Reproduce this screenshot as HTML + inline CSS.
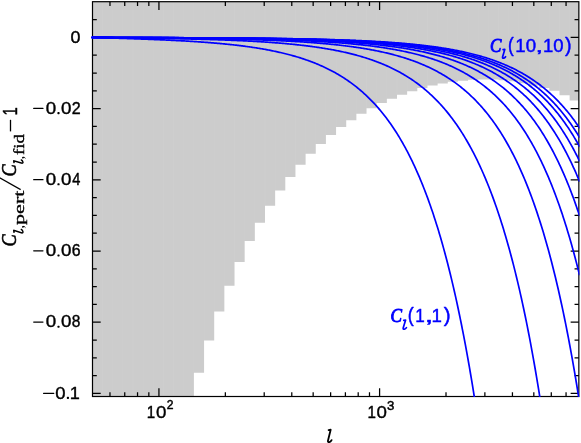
<!DOCTYPE html>
<html><head><meta charset="utf-8"><title>plot</title>
<style>
html,body{margin:0;padding:0;background:#fff;}
svg{display:block;}
.sa{font-family:"Liberation Sans",sans-serif;}
.se{font-family:"Liberation Serif",serif;}
</style></head><body>
<svg width="581" height="443" viewBox="0 0 581 443">
<rect width="581" height="443" fill="#fff"/>
<defs><filter id="f" filterUnits="userSpaceOnUse" x="0" y="0" width="581" height="443" color-interpolation-filters="sRGB"><feOffset dx="0" dy="0"/></filter><clipPath id="cp"><rect x="90.5" y="1.7" width="488.95000000000005" height="395.40000000000003"/></clipPath></defs>
<g fill="#cccccc">
<path d="M92.50,1.70 L92.50,396.50 L102.50,396.50 L102.50,396.50 L112.66,396.50 L112.66,396.50 L122.81,396.50 L122.81,396.50 L132.97,396.50 L132.97,396.50 L143.12,396.50 L143.12,396.50 L153.28,396.50 L153.28,396.50 L163.44,396.50 L163.44,396.50 L173.59,396.50 L173.59,396.50 L183.75,396.50 L183.75,396.50 L193.90,396.50 L193.90,372.70 L204.06,372.70 L204.06,340.40 L214.21,340.40 L214.21,311.50 L224.36,311.50 L224.36,285.80 L234.52,285.80 L234.52,262.10 L244.67,262.10 L244.67,241.10 L254.83,241.10 L254.83,222.70 L264.99,222.70 L264.99,205.70 L275.14,205.70 L275.14,190.60 L285.29,190.60 L285.29,176.90 L295.45,176.90 L295.45,164.70 L305.61,164.70 L305.61,153.65 L315.76,153.65 L315.76,144.10 L325.91,144.10 L325.91,135.10 L336.07,135.10 L336.07,127.10 L346.22,127.10 L346.22,120.20 L356.38,120.20 L356.38,113.80 L366.53,113.80 L366.53,108.30 L376.69,108.30 L376.69,103.00 L386.85,103.00 L386.85,98.64 L397.00,98.64 L397.00,94.80 L407.15,94.80 L407.15,91.30 L417.31,91.30 L417.31,88.10 L427.46,88.10 L427.46,85.57 L437.62,85.57 L437.62,83.55 L447.77,83.55 L447.77,81.72 L457.93,81.72 L457.93,80.65 L468.08,80.65 L468.08,79.80 L478.24,79.80 L478.24,79.45 L488.39,79.45 L488.39,79.50 L498.55,79.50 L498.55,80.20 L508.70,80.20 L508.70,81.30 L518.86,81.30 L518.86,83.20 L529.01,83.20 L529.01,85.40 L539.17,85.40 L539.17,87.95 L549.32,87.95 L549.32,90.65 L559.48,90.65 L559.48,95.20 L569.63,95.20 L569.63,100.55 L578.85,100.55 L578.85,1.70Z"/>
<path d="M102.50,1.7 V396.50 M112.66,1.7 V396.50 M122.81,1.7 V396.50 M132.97,1.7 V396.50 M143.12,1.7 V396.50 M153.28,1.7 V396.50 M163.44,1.7 V396.50 M173.59,1.7 V396.50 M183.75,1.7 V396.50 M193.90,1.7 V372.70 M204.06,1.7 V340.40 M214.21,1.7 V311.50 M224.36,1.7 V285.80 M234.52,1.7 V262.10 M244.67,1.7 V241.10 M254.83,1.7 V222.70 M264.99,1.7 V205.70 M275.14,1.7 V190.60 M285.29,1.7 V176.90 M295.45,1.7 V164.70 M305.61,1.7 V153.65 M315.76,1.7 V144.10 M325.91,1.7 V135.10 M336.07,1.7 V127.10 M346.22,1.7 V120.20 M356.38,1.7 V113.80 M366.53,1.7 V108.30 M376.69,1.7 V103.00 M386.85,1.7 V98.64 M397.00,1.7 V94.80 M407.15,1.7 V91.30 M417.31,1.7 V88.10 M427.46,1.7 V85.57 M437.62,1.7 V83.55 M447.77,1.7 V81.72 M457.93,1.7 V80.65 M468.08,1.7 V79.80 M478.24,1.7 V79.45 M488.39,1.7 V79.45 M498.55,1.7 V79.50 M508.70,1.7 V80.20 M518.86,1.7 V81.30 M529.01,1.7 V83.20 M539.17,1.7 V85.40 M549.32,1.7 V87.95 M559.48,1.7 V90.65 M569.63,1.7 V95.20" stroke="#fff" stroke-opacity="0.045" stroke-width="1" fill="none"/>
</g>
<path d="M109.97,396.5 v-4.3 M109.97,1.7 v4.3 M124.74,396.5 v-4.3 M124.74,1.7 v4.3 M137.54,396.5 v-4.3 M137.54,1.7 v4.3 M148.83,396.5 v-4.3 M148.83,1.7 v4.3 M158.93,396.5 v-8.2 M158.93,1.7 v8.2 M225.35,396.5 v-4.3 M225.35,1.7 v4.3 M264.21,396.5 v-4.3 M264.21,1.7 v4.3 M291.78,396.5 v-4.3 M291.78,1.7 v4.3 M313.16,396.5 v-4.3 M313.16,1.7 v4.3 M330.63,396.5 v-4.3 M330.63,1.7 v4.3 M345.40,396.5 v-4.3 M345.40,1.7 v4.3 M358.20,396.5 v-4.3 M358.20,1.7 v4.3 M369.49,396.5 v-4.3 M369.49,1.7 v4.3 M379.59,396.5 v-8.2 M379.59,1.7 v8.2 M446.01,396.5 v-4.3 M446.01,1.7 v4.3 M484.87,396.5 v-4.3 M484.87,1.7 v4.3 M512.44,396.5 v-4.3 M512.44,1.7 v4.3 M533.82,396.5 v-4.3 M533.82,1.7 v4.3 M551.29,396.5 v-4.3 M551.29,1.7 v4.3 M566.06,396.5 v-4.3 M566.06,1.7 v4.3 M92.5,19.60 h4.3 M578.85,19.60 h-4.3 M92.5,37.40 h8.2 M578.85,37.40 h-8.2 M92.5,55.20 h4.3 M578.85,55.20 h-4.3 M92.5,73.00 h4.3 M578.85,73.00 h-4.3 M92.5,90.80 h4.3 M578.85,90.80 h-4.3 M92.5,108.60 h8.2 M578.85,108.60 h-8.2 M92.5,126.40 h4.3 M578.85,126.40 h-4.3 M92.5,144.20 h4.3 M578.85,144.20 h-4.3 M92.5,162.00 h4.3 M578.85,162.00 h-4.3 M92.5,179.80 h8.2 M578.85,179.80 h-8.2 M92.5,197.60 h4.3 M578.85,197.60 h-4.3 M92.5,215.40 h4.3 M578.85,215.40 h-4.3 M92.5,233.20 h4.3 M578.85,233.20 h-4.3 M92.5,251.00 h8.2 M578.85,251.00 h-8.2 M92.5,268.80 h4.3 M578.85,268.80 h-4.3 M92.5,286.60 h4.3 M578.85,286.60 h-4.3 M92.5,304.40 h4.3 M578.85,304.40 h-4.3 M92.5,322.20 h8.2 M578.85,322.20 h-8.2 M92.5,340.00 h4.3 M578.85,340.00 h-4.3 M92.5,357.80 h4.3 M578.85,357.80 h-4.3 M92.5,375.60 h4.3 M578.85,375.60 h-4.3 M92.5,393.40 h8.2 M578.85,393.40 h-8.2" stroke="#000" stroke-width="1.25" fill="none"/>
<rect x="92.5" y="1.7" width="486.35" height="394.8" fill="none" stroke="#000" stroke-width="1.2"/>
<g clip-path="url(#cp)" fill="none" stroke="#0000ff" stroke-width="1.7" stroke-linejoin="round" stroke-linecap="round">
<path d="M92.4,37.40 L93.4,37.43 L94.4,37.47 L95.4,37.50 L96.4,37.54 L97.4,37.57 L98.4,37.60 L99.4,37.64 L100.4,37.67 L101.4,37.70 L102.4,37.73 L103.4,37.77 L104.4,37.80 L105.4,37.83 L106.4,37.87 L107.4,37.90 L108.4,37.93 L109.4,37.96 L110.4,38.00 L111.4,38.03 L112.4,38.06 L113.4,38.09 L114.4,38.13 L115.4,38.16 L116.4,38.19 L117.4,38.22 L118.4,38.26 L119.4,38.29 L120.4,38.32 L121.4,38.35 L122.4,38.39 L123.4,38.42 L124.4,38.45 L125.4,38.49 L126.4,38.52 L127.4,38.55 L128.4,38.59 L129.4,38.62 L130.4,38.66 L131.4,38.69 L132.4,38.72 L133.4,38.76 L134.4,38.79 L135.4,38.83 L136.4,38.86 L137.4,38.90 L138.4,38.93 L139.4,38.97 L140.4,39.00 L141.4,39.04 L142.4,39.08 L143.4,39.11 L144.4,39.15 L145.4,39.19 L146.4,39.23 L147.4,39.26 L148.4,39.30 L149.4,39.34 L150.4,39.38 L151.4,39.42 L152.4,39.46 L153.4,39.50 L154.4,39.54 L155.4,39.58 L156.4,39.62 L157.4,39.66 L158.4,39.70 L159.4,39.74 L160.4,39.79 L161.4,39.83 L162.4,39.87 L163.4,39.92 L164.4,39.96 L165.4,40.00 L166.4,40.05 L167.4,40.10 L168.4,40.14 L169.4,40.19 L170.4,40.24 L171.4,40.28 L172.4,40.33 L173.4,40.38 L174.4,40.43 L175.4,40.48 L176.4,40.53 L177.4,40.58 L178.4,40.63 L179.4,40.69 L180.4,40.74 L181.4,40.79 L182.4,40.85 L183.4,40.90 L184.4,40.96 L185.4,41.01 L186.4,41.07 L187.4,41.13 L188.4,41.19 L189.4,41.25 L190.4,41.31 L191.4,41.37 L192.4,41.43 L193.4,41.49 L194.4,41.56 L195.4,41.62 L196.4,41.69 L197.4,41.75 L198.4,41.82 L199.4,41.89 L200.4,41.96 L201.4,42.03 L202.4,42.10 L203.4,42.17 L204.4,42.24 L205.4,42.31 L206.4,42.39 L207.4,42.47 L208.4,42.54 L209.4,42.62 L210.4,42.70 L211.4,42.78 L212.4,42.86 L213.4,42.94 L214.4,43.03 L215.4,43.11 L216.4,43.20 L217.4,43.29 L218.4,43.37 L219.4,43.46 L220.4,43.56 L221.4,43.65 L222.4,43.74 L223.4,43.84 L224.4,43.93 L225.4,44.03 L226.4,44.13 L227.4,44.23 L228.4,44.33 L229.4,44.44 L230.4,44.54 L231.4,44.65 L232.4,44.76 L233.4,44.87 L234.4,44.98 L235.4,45.10 L236.4,45.21 L237.4,45.33 L238.4,45.45 L239.4,45.57 L240.4,45.69 L241.4,45.82 L242.4,45.94 L243.4,46.07 L244.4,46.20 L245.4,46.33 L246.4,46.47 L247.4,46.60 L248.4,46.74 L249.4,46.88 L250.4,47.03 L251.4,47.17 L252.4,47.32 L253.4,47.47 L254.4,47.62 L255.4,47.77 L256.4,47.93 L257.4,48.09 L258.4,48.25 L259.4,48.42 L260.4,48.58 L261.4,48.75 L262.4,48.92 L263.4,49.10 L264.4,49.27 L265.4,49.45 L266.4,49.64 L267.4,49.82 L268.4,50.01 L269.4,50.20 L270.4,50.40 L271.4,50.60 L272.4,50.80 L273.4,51.00 L274.4,51.21 L275.4,51.42 L276.4,51.63 L277.4,51.85 L278.4,52.07 L279.4,52.30 L280.4,52.52 L281.4,52.75 L282.4,52.99 L283.4,53.23 L284.4,53.47 L285.4,53.72 L286.4,53.97 L287.4,54.22 L288.4,54.48 L289.4,54.75 L290.4,55.01 L291.4,55.28 L292.4,55.56 L293.4,55.84 L294.4,56.13 L295.4,56.42 L296.4,56.71 L297.4,57.01 L298.4,57.31 L299.4,57.62 L300.4,57.93 L301.4,58.25 L302.4,58.58 L303.4,58.91 L304.4,59.24 L305.4,59.58 L306.4,59.93 L307.4,60.28 L308.4,60.64 L309.4,61.00 L310.4,61.37 L311.4,61.74 L312.4,62.12 L313.4,62.51 L314.4,62.90 L315.4,63.30 L316.4,63.71 L317.4,64.12 L318.4,64.54 L319.4,64.97 L320.4,65.41 L321.4,65.85 L322.4,66.30 L323.4,66.75 L324.4,67.22 L325.4,67.69 L326.4,68.17 L327.4,68.65 L328.4,69.15 L329.4,69.65 L330.4,70.16 L331.4,70.68 L332.4,71.21 L333.4,71.75 L334.4,72.30 L335.4,72.85 L336.4,73.42 L337.4,73.99 L338.4,74.58 L339.4,75.17 L340.4,75.78 L341.4,76.39 L342.4,77.02 L343.4,77.65 L344.4,78.30 L345.4,78.95 L346.4,79.62 L347.4,80.30 L348.4,80.99 L349.4,81.69 L350.4,82.41 L351.4,83.13 L352.4,83.87 L353.4,84.62 L354.4,85.38 L355.4,86.16 L356.4,86.95 L357.4,87.75 L358.4,88.57 L359.4,89.40 L360.4,90.25 L361.4,91.10 L362.4,91.98 L363.4,92.87 L364.4,93.77 L365.4,94.69 L366.4,95.62 L367.4,96.58 L368.4,97.54 L369.4,98.53 L370.4,99.53 L371.4,100.54 L372.4,101.58 L373.4,102.63 L374.4,103.70 L375.4,104.79 L376.4,105.90 L377.4,107.03 L378.4,108.18 L379.4,109.34 L380.4,110.53 L381.4,111.74 L382.4,112.96 L383.4,114.21 L384.4,115.48 L385.4,116.78 L386.4,118.09 L387.4,119.43 L388.4,120.79 L389.4,122.18 L390.4,123.59 L391.4,125.02 L392.4,126.48 L393.4,127.96 L394.4,129.47 L395.4,131.01 L396.4,132.57 L397.4,134.16 L398.4,135.78 L399.4,137.43 L400.4,139.10 L401.4,140.81 L402.4,142.54 L403.4,144.31 L404.4,146.10 L405.4,147.93 L406.4,149.79 L407.4,151.68 L408.4,153.61 L409.4,155.57 L410.4,157.56 L411.4,159.59 L412.4,161.66 L413.4,163.76 L414.4,165.90 L415.4,168.08 L416.4,170.29 L417.4,172.55 L418.4,174.84 L419.4,177.18 L420.4,179.55 L421.4,181.97 L422.4,184.43 L423.4,186.94 L424.4,189.49 L425.4,192.09 L426.4,194.73 L427.4,197.42 L428.4,200.15 L429.4,202.94 L430.4,205.78 L431.4,208.66 L432.4,211.60 L433.4,214.59 L434.4,217.64 L435.4,220.74 L436.4,223.89 L437.4,227.10 L438.4,230.37 L439.4,233.70 L440.4,237.09 L441.4,240.54 L442.4,244.05 L443.4,247.62 L444.4,251.26 L445.4,254.97 L446.4,258.74 L447.4,262.58 L448.4,266.49 L449.4,270.47 L450.4,274.52 L451.4,278.65 L452.4,282.85 L453.4,287.12 L454.4,291.48 L455.4,295.91 L456.4,300.43 L457.4,305.02 L458.4,309.70 L459.4,314.47 L460.4,319.32 L461.4,324.26 L462.4,329.30 L463.4,334.42 L464.4,339.64 L465.4,344.95 L466.4,350.36 L467.4,355.87 L468.4,361.48 L469.4,367.19 L470.4,373.01 L471.4,378.94 L472.4,384.97 L473.4,391.12 L474.4,397.37 L475.4,403.75 L476.4,410.24"/>
<path d="M92.4,37.40 L93.4,37.41 L94.4,37.43 L95.4,37.44 L96.4,37.46 L97.4,37.47 L98.4,37.49 L99.4,37.50 L100.4,37.52 L101.4,37.53 L102.4,37.54 L103.4,37.56 L104.4,37.57 L105.4,37.59 L106.4,37.60 L107.4,37.61 L108.4,37.63 L109.4,37.64 L110.4,37.66 L111.4,37.67 L112.4,37.68 L113.4,37.70 L114.4,37.71 L115.4,37.73 L116.4,37.74 L117.4,37.75 L118.4,37.77 L119.4,37.78 L120.4,37.79 L121.4,37.81 L122.4,37.82 L123.4,37.84 L124.4,37.85 L125.4,37.86 L126.4,37.88 L127.4,37.89 L128.4,37.91 L129.4,37.92 L130.4,37.94 L131.4,37.95 L132.4,37.96 L133.4,37.98 L134.4,37.99 L135.4,38.01 L136.4,38.02 L137.4,38.04 L138.4,38.05 L139.4,38.07 L140.4,38.08 L141.4,38.09 L142.4,38.11 L143.4,38.12 L144.4,38.14 L145.4,38.16 L146.4,38.17 L147.4,38.19 L148.4,38.20 L149.4,38.22 L150.4,38.23 L151.4,38.25 L152.4,38.27 L153.4,38.28 L154.4,38.30 L155.4,38.31 L156.4,38.33 L157.4,38.35 L158.4,38.36 L159.4,38.38 L160.4,38.40 L161.4,38.42 L162.4,38.43 L163.4,38.45 L164.4,38.47 L165.4,38.49 L166.4,38.50 L167.4,38.52 L168.4,38.54 L169.4,38.56 L170.4,38.58 L171.4,38.60 L172.4,38.62 L173.4,38.64 L174.4,38.66 L175.4,38.68 L176.4,38.70 L177.4,38.72 L178.4,38.74 L179.4,38.76 L180.4,38.78 L181.4,38.80 L182.4,38.82 L183.4,38.84 L184.4,38.86 L185.4,38.89 L186.4,38.91 L187.4,38.93 L188.4,38.95 L189.4,38.98 L190.4,39.00 L191.4,39.03 L192.4,39.05 L193.4,39.07 L194.4,39.10 L195.4,39.12 L196.4,39.15 L197.4,39.17 L198.4,39.20 L199.4,39.23 L200.4,39.25 L201.4,39.28 L202.4,39.31 L203.4,39.34 L204.4,39.36 L205.4,39.39 L206.4,39.42 L207.4,39.45 L208.4,39.48 L209.4,39.51 L210.4,39.54 L211.4,39.57 L212.4,39.60 L213.4,39.63 L214.4,39.66 L215.4,39.70 L216.4,39.73 L217.4,39.76 L218.4,39.80 L219.4,39.83 L220.4,39.87 L221.4,39.90 L222.4,39.94 L223.4,39.97 L224.4,40.01 L225.4,40.05 L226.4,40.08 L227.4,40.12 L228.4,40.16 L229.4,40.20 L230.4,40.24 L231.4,40.28 L232.4,40.32 L233.4,40.36 L234.4,40.40 L235.4,40.45 L236.4,40.49 L237.4,40.53 L238.4,40.58 L239.4,40.62 L240.4,40.67 L241.4,40.72 L242.4,40.76 L243.4,40.81 L244.4,40.86 L245.4,40.91 L246.4,40.96 L247.4,41.01 L248.4,41.06 L249.4,41.11 L250.4,41.17 L251.4,41.22 L252.4,41.27 L253.4,41.33 L254.4,41.39 L255.4,41.44 L256.4,41.50 L257.4,41.56 L258.4,41.62 L259.4,41.68 L260.4,41.74 L261.4,41.80 L262.4,41.87 L263.4,41.93 L264.4,41.99 L265.4,42.06 L266.4,42.13 L267.4,42.19 L268.4,42.26 L269.4,42.33 L270.4,42.40 L271.4,42.48 L272.4,42.55 L273.4,42.62 L274.4,42.70 L275.4,42.78 L276.4,42.85 L277.4,42.93 L278.4,43.01 L279.4,43.09 L280.4,43.18 L281.4,43.26 L282.4,43.34 L283.4,43.43 L284.4,43.52 L285.4,43.61 L286.4,43.70 L287.4,43.79 L288.4,43.88 L289.4,43.98 L290.4,44.07 L291.4,44.17 L292.4,44.27 L293.4,44.37 L294.4,44.47 L295.4,44.57 L296.4,44.68 L297.4,44.79 L298.4,44.89 L299.4,45.00 L300.4,45.12 L301.4,45.23 L302.4,45.34 L303.4,45.46 L304.4,45.58 L305.4,45.70 L306.4,45.82 L307.4,45.95 L308.4,46.07 L309.4,46.20 L310.4,46.33 L311.4,46.46 L312.4,46.60 L313.4,46.74 L314.4,46.87 L315.4,47.01 L316.4,47.16 L317.4,47.30 L318.4,47.45 L319.4,47.60 L320.4,47.75 L321.4,47.91 L322.4,48.06 L323.4,48.22 L324.4,48.39 L325.4,48.55 L326.4,48.72 L327.4,48.89 L328.4,49.06 L329.4,49.23 L330.4,49.41 L331.4,49.59 L332.4,49.78 L333.4,49.96 L334.4,50.15 L335.4,50.35 L336.4,50.54 L337.4,50.74 L338.4,50.94 L339.4,51.15 L340.4,51.36 L341.4,51.57 L342.4,51.78 L343.4,52.00 L344.4,52.22 L345.4,52.45 L346.4,52.68 L347.4,52.91 L348.4,53.15 L349.4,53.39 L350.4,53.63 L351.4,53.88 L352.4,54.13 L353.4,54.39 L354.4,54.65 L355.4,54.91 L356.4,55.18 L357.4,55.46 L358.4,55.73 L359.4,56.02 L360.4,56.30 L361.4,56.59 L362.4,56.89 L363.4,57.19 L364.4,57.50 L365.4,57.81 L366.4,58.13 L367.4,58.45 L368.4,58.77 L369.4,59.10 L370.4,59.44 L371.4,59.78 L372.4,60.13 L373.4,60.49 L374.4,60.85 L375.4,61.21 L376.4,61.58 L377.4,61.96 L378.4,62.35 L379.4,62.74 L380.4,63.13 L381.4,63.54 L382.4,63.95 L383.4,64.36 L384.4,64.79 L385.4,65.22 L386.4,65.65 L387.4,66.10 L388.4,66.55 L389.4,67.01 L390.4,67.48 L391.4,67.95 L392.4,68.44 L393.4,68.93 L394.4,69.43 L395.4,69.94 L396.4,70.45 L397.4,70.98 L398.4,71.51 L399.4,72.05 L400.4,72.60 L401.4,73.17 L402.4,73.74 L403.4,74.31 L404.4,74.90 L405.4,75.50 L406.4,76.11 L407.4,76.73 L408.4,77.36 L409.4,78.00 L410.4,78.65 L411.4,79.32 L412.4,79.99 L413.4,80.67 L414.4,81.37 L415.4,82.08 L416.4,82.80 L417.4,83.53 L418.4,84.28 L419.4,85.03 L420.4,85.80 L421.4,86.59 L422.4,87.38 L423.4,88.19 L424.4,89.02 L425.4,89.86 L426.4,90.71 L427.4,91.57 L428.4,92.46 L429.4,93.35 L430.4,94.26 L431.4,95.19 L432.4,96.13 L433.4,97.09 L434.4,98.07 L435.4,99.06 L436.4,100.07 L437.4,101.10 L438.4,102.14 L439.4,103.21 L440.4,104.29 L441.4,105.39 L442.4,106.50 L443.4,107.64 L444.4,108.80 L445.4,109.98 L446.4,111.17 L447.4,112.39 L448.4,113.63 L449.4,114.89 L450.4,116.17 L451.4,117.48 L452.4,118.81 L453.4,120.16 L454.4,121.53 L455.4,122.93 L456.4,124.35 L457.4,125.80 L458.4,127.27 L459.4,128.77 L460.4,130.29 L461.4,131.84 L462.4,133.42 L463.4,135.02 L464.4,136.66 L465.4,138.32 L466.4,140.01 L467.4,141.73 L468.4,143.48 L469.4,145.26 L470.4,147.08 L471.4,148.92 L472.4,150.80 L473.4,152.71 L474.4,154.65 L475.4,156.63 L476.4,158.64 L477.4,160.69 L478.4,162.77 L479.4,164.90 L480.4,167.05 L481.4,169.25 L482.4,171.49 L483.4,173.76 L484.4,176.08 L485.4,178.44 L486.4,180.84 L487.4,183.28 L488.4,185.76 L489.4,188.29 L490.4,190.87 L491.4,193.49 L492.4,196.15 L493.4,198.87 L494.4,201.63 L495.4,204.44 L496.4,207.31 L497.4,210.22 L498.4,213.19 L499.4,216.21 L500.4,219.28 L501.4,222.41 L502.4,225.59 L503.4,228.84 L504.4,232.14 L505.4,235.50 L506.4,238.92 L507.4,242.40 L508.4,245.94 L509.4,249.55 L510.4,253.23 L511.4,256.97 L512.4,260.77 L513.4,264.65 L514.4,268.60 L515.4,272.62 L516.4,276.71 L517.4,280.87 L518.4,285.11 L519.4,289.43 L520.4,293.83 L521.4,298.30 L522.4,302.86 L523.4,307.50 L524.4,312.23 L525.4,317.04 L526.4,321.94 L527.4,326.93 L528.4,332.01 L529.4,337.18 L530.4,342.45 L531.4,347.82 L532.4,353.28 L533.4,358.84 L534.4,364.51 L535.4,370.27 L536.4,376.15 L537.4,382.13 L538.4,388.23 L539.4,394.43 L540.4,400.75 L541.4,407.19"/>
<path d="M92.4,37.40 L93.4,37.41 L94.4,37.42 L95.4,37.43 L96.4,37.44 L97.4,37.45 L98.4,37.45 L99.4,37.46 L100.4,37.47 L101.4,37.48 L102.4,37.49 L103.4,37.50 L104.4,37.51 L105.4,37.52 L106.4,37.52 L107.4,37.53 L108.4,37.54 L109.4,37.55 L110.4,37.56 L111.4,37.57 L112.4,37.58 L113.4,37.59 L114.4,37.59 L115.4,37.60 L116.4,37.61 L117.4,37.62 L118.4,37.63 L119.4,37.64 L120.4,37.64 L121.4,37.65 L122.4,37.66 L123.4,37.67 L124.4,37.68 L125.4,37.69 L126.4,37.70 L127.4,37.70 L128.4,37.71 L129.4,37.72 L130.4,37.73 L131.4,37.74 L132.4,37.75 L133.4,37.76 L134.4,37.77 L135.4,37.77 L136.4,37.78 L137.4,37.79 L138.4,37.80 L139.4,37.81 L140.4,37.82 L141.4,37.83 L142.4,37.84 L143.4,37.85 L144.4,37.86 L145.4,37.86 L146.4,37.87 L147.4,37.88 L148.4,37.89 L149.4,37.90 L150.4,37.91 L151.4,37.92 L152.4,37.93 L153.4,37.94 L154.4,37.95 L155.4,37.96 L156.4,37.97 L157.4,37.98 L158.4,37.99 L159.4,38.00 L160.4,38.01 L161.4,38.02 L162.4,38.03 L163.4,38.04 L164.4,38.05 L165.4,38.06 L166.4,38.07 L167.4,38.08 L168.4,38.10 L169.4,38.11 L170.4,38.12 L171.4,38.13 L172.4,38.14 L173.4,38.15 L174.4,38.16 L175.4,38.18 L176.4,38.19 L177.4,38.20 L178.4,38.21 L179.4,38.22 L180.4,38.24 L181.4,38.25 L182.4,38.26 L183.4,38.27 L184.4,38.29 L185.4,38.30 L186.4,38.31 L187.4,38.33 L188.4,38.34 L189.4,38.35 L190.4,38.37 L191.4,38.38 L192.4,38.40 L193.4,38.41 L194.4,38.42 L195.4,38.44 L196.4,38.45 L197.4,38.47 L198.4,38.48 L199.4,38.50 L200.4,38.51 L201.4,38.53 L202.4,38.55 L203.4,38.56 L204.4,38.58 L205.4,38.59 L206.4,38.61 L207.4,38.63 L208.4,38.65 L209.4,38.66 L210.4,38.68 L211.4,38.70 L212.4,38.72 L213.4,38.73 L214.4,38.75 L215.4,38.77 L216.4,38.79 L217.4,38.81 L218.4,38.83 L219.4,38.85 L220.4,38.87 L221.4,38.89 L222.4,38.91 L223.4,38.93 L224.4,38.95 L225.4,38.97 L226.4,39.00 L227.4,39.02 L228.4,39.04 L229.4,39.06 L230.4,39.08 L231.4,39.11 L232.4,39.13 L233.4,39.15 L234.4,39.18 L235.4,39.20 L236.4,39.23 L237.4,39.25 L238.4,39.28 L239.4,39.30 L240.4,39.33 L241.4,39.36 L242.4,39.38 L243.4,39.41 L244.4,39.44 L245.4,39.47 L246.4,39.50 L247.4,39.52 L248.4,39.55 L249.4,39.58 L250.4,39.61 L251.4,39.64 L252.4,39.67 L253.4,39.71 L254.4,39.74 L255.4,39.77 L256.4,39.80 L257.4,39.84 L258.4,39.87 L259.4,39.90 L260.4,39.94 L261.4,39.97 L262.4,40.01 L263.4,40.05 L264.4,40.08 L265.4,40.12 L266.4,40.16 L267.4,40.20 L268.4,40.23 L269.4,40.27 L270.4,40.31 L271.4,40.35 L272.4,40.39 L273.4,40.44 L274.4,40.48 L275.4,40.52 L276.4,40.57 L277.4,40.61 L278.4,40.65 L279.4,40.70 L280.4,40.75 L281.4,40.79 L282.4,40.84 L283.4,40.89 L284.4,40.94 L285.4,40.99 L286.4,41.04 L287.4,41.09 L288.4,41.14 L289.4,41.19 L290.4,41.25 L291.4,41.30 L292.4,41.36 L293.4,41.41 L294.4,41.47 L295.4,41.53 L296.4,41.58 L297.4,41.64 L298.4,41.70 L299.4,41.76 L300.4,41.83 L301.4,41.89 L302.4,41.95 L303.4,42.02 L304.4,42.08 L305.4,42.15 L306.4,42.22 L307.4,42.29 L308.4,42.36 L309.4,42.43 L310.4,42.50 L311.4,42.57 L312.4,42.65 L313.4,42.72 L314.4,42.80 L315.4,42.88 L316.4,42.96 L317.4,43.04 L318.4,43.12 L319.4,43.20 L320.4,43.28 L321.4,43.37 L322.4,43.45 L323.4,43.54 L324.4,43.63 L325.4,43.72 L326.4,43.81 L327.4,43.90 L328.4,44.00 L329.4,44.10 L330.4,44.19 L331.4,44.29 L332.4,44.39 L333.4,44.49 L334.4,44.60 L335.4,44.70 L336.4,44.81 L337.4,44.92 L338.4,45.03 L339.4,45.14 L340.4,45.25 L341.4,45.37 L342.4,45.49 L343.4,45.60 L344.4,45.72 L345.4,45.85 L346.4,45.97 L347.4,46.10 L348.4,46.23 L349.4,46.36 L350.4,46.49 L351.4,46.62 L352.4,46.76 L353.4,46.90 L354.4,47.04 L355.4,47.18 L356.4,47.33 L357.4,47.48 L358.4,47.63 L359.4,47.78 L360.4,47.93 L361.4,48.09 L362.4,48.25 L363.4,48.41 L364.4,48.58 L365.4,48.75 L366.4,48.92 L367.4,49.09 L368.4,49.26 L369.4,49.44 L370.4,49.62 L371.4,49.81 L372.4,49.99 L373.4,50.18 L374.4,50.38 L375.4,50.57 L376.4,50.77 L377.4,50.97 L378.4,51.18 L379.4,51.39 L380.4,51.60 L381.4,51.82 L382.4,52.04 L383.4,52.26 L384.4,52.48 L385.4,52.71 L386.4,52.95 L387.4,53.18 L388.4,53.43 L389.4,53.67 L390.4,53.92 L391.4,54.17 L392.4,54.43 L393.4,54.69 L394.4,54.96 L395.4,55.23 L396.4,55.50 L397.4,55.78 L398.4,56.06 L399.4,56.35 L400.4,56.64 L401.4,56.94 L402.4,57.24 L403.4,57.55 L404.4,57.86 L405.4,58.17 L406.4,58.50 L407.4,58.82 L408.4,59.16 L409.4,59.49 L410.4,59.84 L411.4,60.19 L412.4,60.54 L413.4,60.90 L414.4,61.27 L415.4,61.64 L416.4,62.02 L417.4,62.40 L418.4,62.80 L419.4,63.19 L420.4,63.60 L421.4,64.01 L422.4,64.43 L423.4,64.85 L424.4,65.28 L425.4,65.72 L426.4,66.17 L427.4,66.62 L428.4,67.08 L429.4,67.55 L430.4,68.03 L431.4,68.51 L432.4,69.00 L433.4,69.50 L434.4,70.01 L435.4,70.53 L436.4,71.06 L437.4,71.59 L438.4,72.13 L439.4,72.69 L440.4,73.25 L441.4,73.82 L442.4,74.40 L443.4,74.99 L444.4,75.59 L445.4,76.20 L446.4,76.82 L447.4,77.46 L448.4,78.10 L449.4,78.75 L450.4,79.41 L451.4,80.09 L452.4,80.78 L453.4,81.47 L454.4,82.18 L455.4,82.91 L456.4,83.64 L457.4,84.39 L458.4,85.15 L459.4,85.92 L460.4,86.70 L461.4,87.50 L462.4,88.31 L463.4,89.14 L464.4,89.98 L465.4,90.83 L466.4,91.70 L467.4,92.59 L468.4,93.48 L469.4,94.40 L470.4,95.33 L471.4,96.27 L472.4,97.24 L473.4,98.21 L474.4,99.21 L475.4,100.22 L476.4,101.25 L477.4,102.30 L478.4,103.36 L479.4,104.45 L480.4,105.55 L481.4,106.67 L482.4,107.81 L483.4,108.97 L484.4,110.15 L485.4,111.35 L486.4,112.57 L487.4,113.81 L488.4,115.08 L489.4,116.36 L490.4,117.67 L491.4,119.00 L492.4,120.36 L493.4,121.73 L494.4,123.13 L495.4,124.56 L496.4,126.01 L497.4,127.49 L498.4,128.99 L499.4,130.51 L500.4,132.07 L501.4,133.65 L502.4,135.26 L503.4,136.90 L504.4,138.56 L505.4,140.26 L506.4,141.98 L507.4,143.74 L508.4,145.52 L509.4,147.34 L510.4,149.19 L511.4,151.07 L512.4,152.99 L513.4,154.94 L514.4,156.92 L515.4,158.94 L516.4,160.99 L517.4,163.08 L518.4,165.21 L519.4,167.37 L520.4,169.57 L521.4,171.82 L522.4,174.10 L523.4,176.42 L524.4,178.78 L525.4,181.19 L526.4,183.64 L527.4,186.13 L528.4,188.66 L529.4,191.24 L530.4,193.87 L531.4,196.55 L532.4,199.27 L533.4,202.04 L534.4,204.86 L535.4,207.73 L536.4,210.65 L537.4,213.62 L538.4,216.65 L539.4,219.73 L540.4,222.87 L541.4,226.06 L542.4,229.31 L543.4,232.62 L544.4,235.99 L545.4,239.42 L546.4,242.91 L547.4,246.46 L548.4,250.08 L549.4,253.76 L550.4,257.51 L551.4,261.33 L552.4,265.22 L553.4,269.18 L554.4,273.21 L555.4,277.31 L556.4,281.48 L557.4,285.74 L558.4,290.06 L559.4,294.47 L560.4,298.96 L561.4,303.53 L562.4,308.18 L563.4,312.92 L564.4,317.75 L565.4,322.66 L566.4,327.66 L567.4,332.76 L568.4,337.94 L569.4,343.22 L570.4,348.60 L571.4,354.08 L572.4,359.66 L573.4,365.34 L574.4,371.12 L575.4,377.01 L576.4,383.01 L577.4,389.12 L578.4,395.34 L579.4,401.68"/>
<path d="M92.4,37.40 L93.4,37.41 L94.4,37.41 L95.4,37.42 L96.4,37.43 L97.4,37.43 L98.4,37.44 L99.4,37.45 L100.4,37.45 L101.4,37.46 L102.4,37.47 L103.4,37.47 L104.4,37.48 L105.4,37.49 L106.4,37.49 L107.4,37.50 L108.4,37.51 L109.4,37.51 L110.4,37.52 L111.4,37.53 L112.4,37.53 L113.4,37.54 L114.4,37.54 L115.4,37.55 L116.4,37.56 L117.4,37.56 L118.4,37.57 L119.4,37.58 L120.4,37.58 L121.4,37.59 L122.4,37.60 L123.4,37.60 L124.4,37.61 L125.4,37.61 L126.4,37.62 L127.4,37.63 L128.4,37.63 L129.4,37.64 L130.4,37.65 L131.4,37.65 L132.4,37.66 L133.4,37.67 L134.4,37.67 L135.4,37.68 L136.4,37.68 L137.4,37.69 L138.4,37.70 L139.4,37.70 L140.4,37.71 L141.4,37.72 L142.4,37.72 L143.4,37.73 L144.4,37.74 L145.4,37.74 L146.4,37.75 L147.4,37.76 L148.4,37.76 L149.4,37.77 L150.4,37.78 L151.4,37.79 L152.4,37.79 L153.4,37.80 L154.4,37.81 L155.4,37.81 L156.4,37.82 L157.4,37.83 L158.4,37.84 L159.4,37.84 L160.4,37.85 L161.4,37.86 L162.4,37.87 L163.4,37.87 L164.4,37.88 L165.4,37.89 L166.4,37.90 L167.4,37.90 L168.4,37.91 L169.4,37.92 L170.4,37.93 L171.4,37.94 L172.4,37.95 L173.4,37.95 L174.4,37.96 L175.4,37.97 L176.4,37.98 L177.4,37.99 L178.4,38.00 L179.4,38.01 L180.4,38.01 L181.4,38.02 L182.4,38.03 L183.4,38.04 L184.4,38.05 L185.4,38.06 L186.4,38.07 L187.4,38.08 L188.4,38.09 L189.4,38.10 L190.4,38.11 L191.4,38.12 L192.4,38.13 L193.4,38.14 L194.4,38.15 L195.4,38.16 L196.4,38.17 L197.4,38.18 L198.4,38.19 L199.4,38.20 L200.4,38.21 L201.4,38.23 L202.4,38.24 L203.4,38.25 L204.4,38.26 L205.4,38.27 L206.4,38.28 L207.4,38.30 L208.4,38.31 L209.4,38.32 L210.4,38.33 L211.4,38.35 L212.4,38.36 L213.4,38.37 L214.4,38.39 L215.4,38.40 L216.4,38.41 L217.4,38.43 L218.4,38.44 L219.4,38.45 L220.4,38.47 L221.4,38.48 L222.4,38.50 L223.4,38.51 L224.4,38.53 L225.4,38.54 L226.4,38.56 L227.4,38.57 L228.4,38.59 L229.4,38.60 L230.4,38.62 L231.4,38.64 L232.4,38.65 L233.4,38.67 L234.4,38.69 L235.4,38.71 L236.4,38.72 L237.4,38.74 L238.4,38.76 L239.4,38.78 L240.4,38.80 L241.4,38.81 L242.4,38.83 L243.4,38.85 L244.4,38.87 L245.4,38.89 L246.4,38.91 L247.4,38.93 L248.4,38.95 L249.4,38.97 L250.4,38.99 L251.4,39.02 L252.4,39.04 L253.4,39.06 L254.4,39.08 L255.4,39.11 L256.4,39.13 L257.4,39.15 L258.4,39.18 L259.4,39.20 L260.4,39.22 L261.4,39.25 L262.4,39.27 L263.4,39.30 L264.4,39.32 L265.4,39.35 L266.4,39.38 L267.4,39.40 L268.4,39.43 L269.4,39.46 L270.4,39.49 L271.4,39.51 L272.4,39.54 L273.4,39.57 L274.4,39.60 L275.4,39.63 L276.4,39.66 L277.4,39.69 L278.4,39.73 L279.4,39.76 L280.4,39.79 L281.4,39.82 L282.4,39.85 L283.4,39.89 L284.4,39.92 L285.4,39.96 L286.4,39.99 L287.4,40.03 L288.4,40.06 L289.4,40.10 L290.4,40.14 L291.4,40.18 L292.4,40.21 L293.4,40.25 L294.4,40.29 L295.4,40.33 L296.4,40.37 L297.4,40.41 L298.4,40.46 L299.4,40.50 L300.4,40.54 L301.4,40.59 L302.4,40.63 L303.4,40.67 L304.4,40.72 L305.4,40.77 L306.4,40.81 L307.4,40.86 L308.4,40.91 L309.4,40.96 L310.4,41.01 L311.4,41.06 L312.4,41.11 L313.4,41.16 L314.4,41.22 L315.4,41.27 L316.4,41.32 L317.4,41.38 L318.4,41.43 L319.4,41.49 L320.4,41.55 L321.4,41.61 L322.4,41.67 L323.4,41.73 L324.4,41.79 L325.4,41.85 L326.4,41.91 L327.4,41.98 L328.4,42.04 L329.4,42.11 L330.4,42.18 L331.4,42.24 L332.4,42.31 L333.4,42.38 L334.4,42.45 L335.4,42.53 L336.4,42.60 L337.4,42.67 L338.4,42.75 L339.4,42.83 L340.4,42.90 L341.4,42.98 L342.4,43.06 L343.4,43.15 L344.4,43.23 L345.4,43.31 L346.4,43.40 L347.4,43.48 L348.4,43.57 L349.4,43.66 L350.4,43.75 L351.4,43.84 L352.4,43.94 L353.4,44.03 L354.4,44.13 L355.4,44.23 L356.4,44.33 L357.4,44.43 L358.4,44.53 L359.4,44.63 L360.4,44.74 L361.4,44.85 L362.4,44.96 L363.4,45.07 L364.4,45.18 L365.4,45.29 L366.4,45.41 L367.4,45.53 L368.4,45.65 L369.4,45.77 L370.4,45.89 L371.4,46.01 L372.4,46.14 L373.4,46.27 L374.4,46.40 L375.4,46.54 L376.4,46.67 L377.4,46.81 L378.4,46.95 L379.4,47.09 L380.4,47.23 L381.4,47.38 L382.4,47.53 L383.4,47.68 L384.4,47.83 L385.4,47.99 L386.4,48.14 L387.4,48.31 L388.4,48.47 L389.4,48.63 L390.4,48.80 L391.4,48.97 L392.4,49.15 L393.4,49.32 L394.4,49.50 L395.4,49.68 L396.4,49.87 L397.4,50.06 L398.4,50.25 L399.4,50.44 L400.4,50.64 L401.4,50.84 L402.4,51.04 L403.4,51.25 L404.4,51.46 L405.4,51.67 L406.4,51.89 L407.4,52.11 L408.4,52.33 L409.4,52.56 L410.4,52.79 L411.4,53.03 L412.4,53.26 L413.4,53.51 L414.4,53.75 L415.4,54.00 L416.4,54.26 L417.4,54.51 L418.4,54.78 L419.4,55.04 L420.4,55.31 L421.4,55.59 L422.4,55.87 L423.4,56.15 L424.4,56.44 L425.4,56.74 L426.4,57.04 L427.4,57.34 L428.4,57.65 L429.4,57.96 L430.4,58.28 L431.4,58.60 L432.4,58.93 L433.4,59.27 L434.4,59.61 L435.4,59.95 L436.4,60.30 L437.4,60.66 L438.4,61.02 L439.4,61.39 L440.4,61.76 L441.4,62.14 L442.4,62.53 L443.4,62.92 L444.4,63.32 L445.4,63.73 L446.4,64.14 L447.4,64.56 L448.4,64.99 L449.4,65.42 L450.4,65.87 L451.4,66.31 L452.4,66.77 L453.4,67.23 L454.4,67.70 L455.4,68.18 L456.4,68.67 L457.4,69.17 L458.4,69.67 L459.4,70.18 L460.4,70.70 L461.4,71.23 L462.4,71.77 L463.4,72.31 L464.4,72.87 L465.4,73.43 L466.4,74.01 L467.4,74.59 L468.4,75.19 L469.4,75.79 L470.4,76.40 L471.4,77.03 L472.4,77.66 L473.4,78.31 L474.4,78.97 L475.4,79.63 L476.4,80.31 L477.4,81.00 L478.4,81.70 L479.4,82.42 L480.4,83.14 L481.4,83.88 L482.4,84.63 L483.4,85.40 L484.4,86.17 L485.4,86.96 L486.4,87.76 L487.4,88.58 L488.4,89.41 L489.4,90.26 L490.4,91.12 L491.4,91.99 L492.4,92.88 L493.4,93.78 L494.4,94.70 L495.4,95.63 L496.4,96.59 L497.4,97.55 L498.4,98.54 L499.4,99.54 L500.4,100.55 L501.4,101.59 L502.4,102.64 L503.4,103.71 L504.4,104.80 L505.4,105.91 L506.4,107.04 L507.4,108.19 L508.4,109.35 L509.4,110.54 L510.4,111.75 L511.4,112.97 L512.4,114.22 L513.4,115.49 L514.4,116.79 L515.4,118.10 L516.4,119.44 L517.4,120.80 L518.4,122.19 L519.4,123.60 L520.4,125.03 L521.4,126.49 L522.4,127.97 L523.4,129.48 L524.4,131.02 L525.4,132.58 L526.4,134.17 L527.4,135.79 L528.4,137.44 L529.4,139.11 L530.4,140.82 L531.4,142.55 L532.4,144.32 L533.4,146.11 L534.4,147.94 L535.4,149.80 L536.4,151.69 L537.4,153.62 L538.4,155.58 L539.4,157.57 L540.4,159.60 L541.4,161.67 L542.4,163.77 L543.4,165.91 L544.4,168.09 L545.4,170.30 L546.4,172.56 L547.4,174.85 L548.4,177.19 L549.4,179.56 L550.4,181.98 L551.4,184.44 L552.4,186.95 L553.4,189.50 L554.4,192.10 L555.4,194.74 L556.4,197.43 L557.4,200.17 L558.4,202.95 L559.4,205.79 L560.4,208.67 L561.4,211.61 L562.4,214.60 L563.4,217.65 L564.4,220.75 L565.4,223.90 L566.4,227.12 L567.4,230.38 L568.4,233.71 L569.4,237.10 L570.4,240.55 L571.4,244.06 L572.4,247.64 L573.4,251.28 L574.4,254.98 L575.4,258.75 L576.4,262.59 L577.4,266.50 L578.4,270.48 L579.4,274.53"/>
<path d="M92.4,37.40 L93.4,37.41 L94.4,37.41 L95.4,37.42 L96.4,37.42 L97.4,37.43 L98.4,37.43 L99.4,37.44 L100.4,37.44 L101.4,37.45 L102.4,37.46 L103.4,37.46 L104.4,37.47 L105.4,37.47 L106.4,37.48 L107.4,37.48 L108.4,37.49 L109.4,37.49 L110.4,37.50 L111.4,37.50 L112.4,37.51 L113.4,37.51 L114.4,37.52 L115.4,37.52 L116.4,37.53 L117.4,37.53 L118.4,37.54 L119.4,37.55 L120.4,37.55 L121.4,37.56 L122.4,37.56 L123.4,37.57 L124.4,37.57 L125.4,37.58 L126.4,37.58 L127.4,37.59 L128.4,37.59 L129.4,37.60 L130.4,37.60 L131.4,37.61 L132.4,37.61 L133.4,37.62 L134.4,37.62 L135.4,37.63 L136.4,37.63 L137.4,37.64 L138.4,37.64 L139.4,37.65 L140.4,37.66 L141.4,37.66 L142.4,37.67 L143.4,37.67 L144.4,37.68 L145.4,37.68 L146.4,37.69 L147.4,37.69 L148.4,37.70 L149.4,37.70 L150.4,37.71 L151.4,37.72 L152.4,37.72 L153.4,37.73 L154.4,37.73 L155.4,37.74 L156.4,37.74 L157.4,37.75 L158.4,37.76 L159.4,37.76 L160.4,37.77 L161.4,37.77 L162.4,37.78 L163.4,37.79 L164.4,37.79 L165.4,37.80 L166.4,37.81 L167.4,37.81 L168.4,37.82 L169.4,37.83 L170.4,37.83 L171.4,37.84 L172.4,37.84 L173.4,37.85 L174.4,37.86 L175.4,37.87 L176.4,37.87 L177.4,37.88 L178.4,37.89 L179.4,37.89 L180.4,37.90 L181.4,37.91 L182.4,37.92 L183.4,37.92 L184.4,37.93 L185.4,37.94 L186.4,37.95 L187.4,37.95 L188.4,37.96 L189.4,37.97 L190.4,37.98 L191.4,37.98 L192.4,37.99 L193.4,38.00 L194.4,38.01 L195.4,38.02 L196.4,38.03 L197.4,38.03 L198.4,38.04 L199.4,38.05 L200.4,38.06 L201.4,38.07 L202.4,38.08 L203.4,38.09 L204.4,38.10 L205.4,38.11 L206.4,38.12 L207.4,38.13 L208.4,38.14 L209.4,38.15 L210.4,38.16 L211.4,38.17 L212.4,38.18 L213.4,38.19 L214.4,38.20 L215.4,38.21 L216.4,38.22 L217.4,38.23 L218.4,38.24 L219.4,38.25 L220.4,38.26 L221.4,38.28 L222.4,38.29 L223.4,38.30 L224.4,38.31 L225.4,38.32 L226.4,38.33 L227.4,38.35 L228.4,38.36 L229.4,38.37 L230.4,38.39 L231.4,38.40 L232.4,38.41 L233.4,38.43 L234.4,38.44 L235.4,38.45 L236.4,38.47 L237.4,38.48 L238.4,38.49 L239.4,38.51 L240.4,38.52 L241.4,38.54 L242.4,38.55 L243.4,38.57 L244.4,38.58 L245.4,38.60 L246.4,38.62 L247.4,38.63 L248.4,38.65 L249.4,38.67 L250.4,38.68 L251.4,38.70 L252.4,38.72 L253.4,38.73 L254.4,38.75 L255.4,38.77 L256.4,38.79 L257.4,38.81 L258.4,38.82 L259.4,38.84 L260.4,38.86 L261.4,38.88 L262.4,38.90 L263.4,38.92 L264.4,38.94 L265.4,38.96 L266.4,38.98 L267.4,39.01 L268.4,39.03 L269.4,39.05 L270.4,39.07 L271.4,39.09 L272.4,39.12 L273.4,39.14 L274.4,39.16 L275.4,39.19 L276.4,39.21 L277.4,39.23 L278.4,39.26 L279.4,39.28 L280.4,39.31 L281.4,39.33 L282.4,39.36 L283.4,39.39 L284.4,39.41 L285.4,39.44 L286.4,39.47 L287.4,39.50 L288.4,39.53 L289.4,39.55 L290.4,39.58 L291.4,39.61 L292.4,39.64 L293.4,39.67 L294.4,39.70 L295.4,39.74 L296.4,39.77 L297.4,39.80 L298.4,39.83 L299.4,39.87 L300.4,39.90 L301.4,39.93 L302.4,39.97 L303.4,40.00 L304.4,40.04 L305.4,40.08 L306.4,40.11 L307.4,40.15 L308.4,40.19 L309.4,40.23 L310.4,40.26 L311.4,40.30 L312.4,40.34 L313.4,40.39 L314.4,40.43 L315.4,40.47 L316.4,40.51 L317.4,40.55 L318.4,40.60 L319.4,40.64 L320.4,40.69 L321.4,40.73 L322.4,40.78 L323.4,40.83 L324.4,40.87 L325.4,40.92 L326.4,40.97 L327.4,41.02 L328.4,41.07 L329.4,41.12 L330.4,41.18 L331.4,41.23 L332.4,41.28 L333.4,41.34 L334.4,41.39 L335.4,41.45 L336.4,41.51 L337.4,41.56 L338.4,41.62 L339.4,41.68 L340.4,41.74 L341.4,41.80 L342.4,41.87 L343.4,41.93 L344.4,41.99 L345.4,42.06 L346.4,42.13 L347.4,42.19 L348.4,42.26 L349.4,42.33 L350.4,42.40 L351.4,42.47 L352.4,42.55 L353.4,42.62 L354.4,42.69 L355.4,42.77 L356.4,42.85 L357.4,42.92 L358.4,43.00 L359.4,43.08 L360.4,43.17 L361.4,43.25 L362.4,43.33 L363.4,43.42 L364.4,43.51 L365.4,43.59 L366.4,43.68 L367.4,43.77 L368.4,43.87 L369.4,43.96 L370.4,44.06 L371.4,44.15 L372.4,44.25 L373.4,44.35 L374.4,44.45 L375.4,44.55 L376.4,44.66 L377.4,44.76 L378.4,44.87 L379.4,44.98 L380.4,45.09 L381.4,45.21 L382.4,45.32 L383.4,45.44 L384.4,45.55 L385.4,45.67 L386.4,45.80 L387.4,45.92 L388.4,46.05 L389.4,46.17 L390.4,46.30 L391.4,46.43 L392.4,46.57 L393.4,46.70 L394.4,46.84 L395.4,46.98 L396.4,47.12 L397.4,47.27 L398.4,47.41 L399.4,47.56 L400.4,47.71 L401.4,47.87 L402.4,48.02 L403.4,48.18 L404.4,48.34 L405.4,48.51 L406.4,48.67 L407.4,48.84 L408.4,49.01 L409.4,49.19 L410.4,49.37 L411.4,49.55 L412.4,49.73 L413.4,49.91 L414.4,50.10 L415.4,50.29 L416.4,50.49 L417.4,50.69 L418.4,50.89 L419.4,51.09 L420.4,51.30 L421.4,51.51 L422.4,51.72 L423.4,51.94 L424.4,52.16 L425.4,52.39 L426.4,52.61 L427.4,52.85 L428.4,53.08 L429.4,53.32 L430.4,53.56 L431.4,53.81 L432.4,54.06 L433.4,54.32 L434.4,54.58 L435.4,54.84 L436.4,55.11 L437.4,55.38 L438.4,55.66 L439.4,55.94 L440.4,56.22 L441.4,56.51 L442.4,56.81 L443.4,57.11 L444.4,57.41 L445.4,57.72 L446.4,58.03 L447.4,58.35 L448.4,58.68 L449.4,59.01 L450.4,59.34 L451.4,59.69 L452.4,60.03 L453.4,60.38 L454.4,60.74 L455.4,61.11 L456.4,61.48 L457.4,61.85 L458.4,62.23 L459.4,62.62 L460.4,63.02 L461.4,63.42 L462.4,63.83 L463.4,64.24 L464.4,64.66 L465.4,65.09 L466.4,65.53 L467.4,65.97 L468.4,66.42 L469.4,66.88 L470.4,67.34 L471.4,67.82 L472.4,68.30 L473.4,68.79 L474.4,69.28 L475.4,69.79 L476.4,70.30 L477.4,70.82 L478.4,71.35 L479.4,71.89 L480.4,72.44 L481.4,73.00 L482.4,73.57 L483.4,74.15 L484.4,74.73 L485.4,75.33 L486.4,75.93 L487.4,76.55 L488.4,77.18 L489.4,77.81 L490.4,78.46 L491.4,79.12 L492.4,79.79 L493.4,80.47 L494.4,81.17 L495.4,81.87 L496.4,82.59 L497.4,83.32 L498.4,84.06 L499.4,84.81 L500.4,85.58 L501.4,86.36 L502.4,87.15 L503.4,87.96 L504.4,88.78 L505.4,89.61 L506.4,90.46 L507.4,91.32 L508.4,92.20 L509.4,93.09 L510.4,94.00 L511.4,94.92 L512.4,95.86 L513.4,96.81 L514.4,97.78 L515.4,98.77 L516.4,99.77 L517.4,100.80 L518.4,101.84 L519.4,102.89 L520.4,103.97 L521.4,105.06 L522.4,106.17 L523.4,107.31 L524.4,108.46 L525.4,109.63 L526.4,110.82 L527.4,112.03 L528.4,113.27 L529.4,114.52 L530.4,115.80 L531.4,117.09 L532.4,118.41 L533.4,119.76 L534.4,121.12 L535.4,122.52 L536.4,123.93 L537.4,125.37 L538.4,126.83 L539.4,128.32 L540.4,129.84 L541.4,131.38 L542.4,132.95 L543.4,134.55 L544.4,136.17 L545.4,137.83 L546.4,139.51 L547.4,141.22 L548.4,142.96 L549.4,144.74 L550.4,146.54 L551.4,148.38 L552.4,150.24 L553.4,152.14 L554.4,154.08 L555.4,156.04 L556.4,158.05 L557.4,160.08 L558.4,162.16 L559.4,164.27 L560.4,166.42 L561.4,168.60 L562.4,170.83 L563.4,173.09 L564.4,175.40 L565.4,177.74 L566.4,180.13 L567.4,182.56 L568.4,185.03 L569.4,187.55 L570.4,190.11 L571.4,192.71 L572.4,195.37 L573.4,198.07 L574.4,200.82 L575.4,203.61 L576.4,206.46 L577.4,209.36 L578.4,212.31 L579.4,215.31"/>
<path d="M92.4,37.40 L93.4,37.40 L94.4,37.41 L95.4,37.41 L96.4,37.42 L97.4,37.42 L98.4,37.43 L99.4,37.43 L100.4,37.44 L101.4,37.44 L102.4,37.45 L103.4,37.45 L104.4,37.46 L105.4,37.46 L106.4,37.47 L107.4,37.47 L108.4,37.48 L109.4,37.48 L110.4,37.48 L111.4,37.49 L112.4,37.49 L113.4,37.50 L114.4,37.50 L115.4,37.51 L116.4,37.51 L117.4,37.52 L118.4,37.52 L119.4,37.53 L120.4,37.53 L121.4,37.53 L122.4,37.54 L123.4,37.54 L124.4,37.55 L125.4,37.55 L126.4,37.56 L127.4,37.56 L128.4,37.57 L129.4,37.57 L130.4,37.57 L131.4,37.58 L132.4,37.58 L133.4,37.59 L134.4,37.59 L135.4,37.60 L136.4,37.60 L137.4,37.61 L138.4,37.61 L139.4,37.62 L140.4,37.62 L141.4,37.62 L142.4,37.63 L143.4,37.63 L144.4,37.64 L145.4,37.64 L146.4,37.65 L147.4,37.65 L148.4,37.66 L149.4,37.66 L150.4,37.67 L151.4,37.67 L152.4,37.68 L153.4,37.68 L154.4,37.69 L155.4,37.69 L156.4,37.70 L157.4,37.70 L158.4,37.71 L159.4,37.71 L160.4,37.72 L161.4,37.72 L162.4,37.73 L163.4,37.73 L164.4,37.74 L165.4,37.74 L166.4,37.75 L167.4,37.75 L168.4,37.76 L169.4,37.77 L170.4,37.77 L171.4,37.78 L172.4,37.78 L173.4,37.79 L174.4,37.79 L175.4,37.80 L176.4,37.81 L177.4,37.81 L178.4,37.82 L179.4,37.82 L180.4,37.83 L181.4,37.84 L182.4,37.84 L183.4,37.85 L184.4,37.86 L185.4,37.86 L186.4,37.87 L187.4,37.87 L188.4,37.88 L189.4,37.89 L190.4,37.89 L191.4,37.90 L192.4,37.91 L193.4,37.92 L194.4,37.92 L195.4,37.93 L196.4,37.94 L197.4,37.94 L198.4,37.95 L199.4,37.96 L200.4,37.97 L201.4,37.97 L202.4,37.98 L203.4,37.99 L204.4,38.00 L205.4,38.01 L206.4,38.01 L207.4,38.02 L208.4,38.03 L209.4,38.04 L210.4,38.05 L211.4,38.06 L212.4,38.06 L213.4,38.07 L214.4,38.08 L215.4,38.09 L216.4,38.10 L217.4,38.11 L218.4,38.12 L219.4,38.13 L220.4,38.14 L221.4,38.15 L222.4,38.16 L223.4,38.17 L224.4,38.18 L225.4,38.19 L226.4,38.20 L227.4,38.21 L228.4,38.22 L229.4,38.23 L230.4,38.24 L231.4,38.25 L232.4,38.26 L233.4,38.27 L234.4,38.29 L235.4,38.30 L236.4,38.31 L237.4,38.32 L238.4,38.33 L239.4,38.35 L240.4,38.36 L241.4,38.37 L242.4,38.38 L243.4,38.40 L244.4,38.41 L245.4,38.42 L246.4,38.44 L247.4,38.45 L248.4,38.46 L249.4,38.48 L250.4,38.49 L251.4,38.50 L252.4,38.52 L253.4,38.53 L254.4,38.55 L255.4,38.56 L256.4,38.58 L257.4,38.59 L258.4,38.61 L259.4,38.63 L260.4,38.64 L261.4,38.66 L262.4,38.68 L263.4,38.69 L264.4,38.71 L265.4,38.73 L266.4,38.74 L267.4,38.76 L268.4,38.78 L269.4,38.80 L270.4,38.82 L271.4,38.84 L272.4,38.85 L273.4,38.87 L274.4,38.89 L275.4,38.91 L276.4,38.93 L277.4,38.95 L278.4,38.97 L279.4,38.99 L280.4,39.02 L281.4,39.04 L282.4,39.06 L283.4,39.08 L284.4,39.10 L285.4,39.13 L286.4,39.15 L287.4,39.17 L288.4,39.20 L289.4,39.22 L290.4,39.25 L291.4,39.27 L292.4,39.30 L293.4,39.32 L294.4,39.35 L295.4,39.37 L296.4,39.40 L297.4,39.43 L298.4,39.45 L299.4,39.48 L300.4,39.51 L301.4,39.54 L302.4,39.57 L303.4,39.60 L304.4,39.63 L305.4,39.66 L306.4,39.69 L307.4,39.72 L308.4,39.75 L309.4,39.78 L310.4,39.81 L311.4,39.85 L312.4,39.88 L313.4,39.91 L314.4,39.95 L315.4,39.98 L316.4,40.02 L317.4,40.05 L318.4,40.09 L319.4,40.13 L320.4,40.17 L321.4,40.20 L322.4,40.24 L323.4,40.28 L324.4,40.32 L325.4,40.36 L326.4,40.40 L327.4,40.44 L328.4,40.49 L329.4,40.53 L330.4,40.57 L331.4,40.62 L332.4,40.66 L333.4,40.71 L334.4,40.75 L335.4,40.80 L336.4,40.85 L337.4,40.89 L338.4,40.94 L339.4,40.99 L340.4,41.04 L341.4,41.09 L342.4,41.15 L343.4,41.20 L344.4,41.25 L345.4,41.31 L346.4,41.36 L347.4,41.42 L348.4,41.47 L349.4,41.53 L350.4,41.59 L351.4,41.65 L352.4,41.71 L353.4,41.77 L354.4,41.83 L355.4,41.89 L356.4,41.96 L357.4,42.02 L358.4,42.09 L359.4,42.15 L360.4,42.22 L361.4,42.29 L362.4,42.36 L363.4,42.43 L364.4,42.50 L365.4,42.57 L366.4,42.65 L367.4,42.72 L368.4,42.80 L369.4,42.88 L370.4,42.96 L371.4,43.04 L372.4,43.12 L373.4,43.20 L374.4,43.28 L375.4,43.37 L376.4,43.45 L377.4,43.54 L378.4,43.63 L379.4,43.72 L380.4,43.81 L381.4,43.90 L382.4,44.00 L383.4,44.09 L384.4,44.19 L385.4,44.29 L386.4,44.39 L387.4,44.49 L388.4,44.60 L389.4,44.70 L390.4,44.81 L391.4,44.92 L392.4,45.03 L393.4,45.14 L394.4,45.25 L395.4,45.37 L396.4,45.48 L397.4,45.60 L398.4,45.72 L399.4,45.84 L400.4,45.97 L401.4,46.09 L402.4,46.22 L403.4,46.35 L404.4,46.49 L405.4,46.62 L406.4,46.76 L407.4,46.90 L408.4,47.04 L409.4,47.18 L410.4,47.32 L411.4,47.47 L412.4,47.62 L413.4,47.77 L414.4,47.93 L415.4,48.09 L416.4,48.25 L417.4,48.41 L418.4,48.57 L419.4,48.74 L420.4,48.91 L421.4,49.08 L422.4,49.26 L423.4,49.44 L424.4,49.62 L425.4,49.80 L426.4,49.99 L427.4,50.18 L428.4,50.37 L429.4,50.57 L430.4,50.76 L431.4,50.97 L432.4,51.17 L433.4,51.38 L434.4,51.59 L435.4,51.81 L436.4,52.03 L437.4,52.25 L438.4,52.48 L439.4,52.70 L440.4,52.94 L441.4,53.17 L442.4,53.42 L443.4,53.66 L444.4,53.91 L445.4,54.16 L446.4,54.42 L447.4,54.68 L448.4,54.94 L449.4,55.21 L450.4,55.49 L451.4,55.77 L452.4,56.05 L453.4,56.34 L454.4,56.63 L455.4,56.92 L456.4,57.23 L457.4,57.53 L458.4,57.84 L459.4,58.16 L460.4,58.48 L461.4,58.81 L462.4,59.14 L463.4,59.48 L464.4,59.82 L465.4,60.17 L466.4,60.52 L467.4,60.88 L468.4,61.25 L469.4,61.62 L470.4,62.00 L471.4,62.39 L472.4,62.78 L473.4,63.17 L474.4,63.58 L475.4,63.99 L476.4,64.41 L477.4,64.83 L478.4,65.26 L479.4,65.70 L480.4,66.15 L481.4,66.60 L482.4,67.06 L483.4,67.53 L484.4,68.00 L485.4,68.49 L486.4,68.98 L487.4,69.48 L488.4,69.99 L489.4,70.51 L490.4,71.03 L491.4,71.57 L492.4,72.11 L493.4,72.66 L494.4,73.22 L495.4,73.79 L496.4,74.37 L497.4,74.96 L498.4,75.56 L499.4,76.17 L500.4,76.79 L501.4,77.43 L502.4,78.07 L503.4,78.72 L504.4,79.38 L505.4,80.06 L506.4,80.74 L507.4,81.44 L508.4,82.15 L509.4,82.87 L510.4,83.61 L511.4,84.35 L512.4,85.11 L513.4,85.88 L514.4,86.67 L515.4,87.46 L516.4,88.27 L517.4,89.10 L518.4,89.94 L519.4,90.79 L520.4,91.66 L521.4,92.54 L522.4,93.44 L523.4,94.35 L524.4,95.28 L525.4,96.23 L526.4,97.19 L527.4,98.17 L528.4,99.16 L529.4,100.17 L530.4,101.20 L531.4,102.25 L532.4,103.31 L533.4,104.39 L534.4,105.49 L535.4,106.62 L536.4,107.75 L537.4,108.91 L538.4,110.09 L539.4,111.29 L540.4,112.51 L541.4,113.75 L542.4,115.02 L543.4,116.30 L544.4,117.61 L545.4,118.94 L546.4,120.29 L547.4,121.67 L548.4,123.07 L549.4,124.49 L550.4,125.94 L551.4,127.42 L552.4,128.92 L553.4,130.44 L554.4,131.99 L555.4,133.58 L556.4,135.18 L557.4,136.82 L558.4,138.48 L559.4,140.18 L560.4,141.90 L561.4,143.65 L562.4,145.44 L563.4,147.25 L564.4,149.10 L565.4,150.98 L566.4,152.90 L567.4,154.84 L568.4,156.82 L569.4,158.84 L570.4,160.89 L571.4,162.98 L572.4,165.11 L573.4,167.27 L574.4,169.47 L575.4,171.71 L576.4,173.99 L577.4,176.31 L578.4,178.67 L579.4,181.07"/>
<path d="M92.4,37.40 L93.4,37.40 L94.4,37.41 L95.4,37.41 L96.4,37.42 L97.4,37.42 L98.4,37.43 L99.4,37.43 L100.4,37.43 L101.4,37.44 L102.4,37.44 L103.4,37.45 L104.4,37.45 L105.4,37.46 L106.4,37.46 L107.4,37.46 L108.4,37.47 L109.4,37.47 L110.4,37.48 L111.4,37.48 L112.4,37.48 L113.4,37.49 L114.4,37.49 L115.4,37.50 L116.4,37.50 L117.4,37.51 L118.4,37.51 L119.4,37.51 L120.4,37.52 L121.4,37.52 L122.4,37.53 L123.4,37.53 L124.4,37.53 L125.4,37.54 L126.4,37.54 L127.4,37.55 L128.4,37.55 L129.4,37.55 L130.4,37.56 L131.4,37.56 L132.4,37.57 L133.4,37.57 L134.4,37.57 L135.4,37.58 L136.4,37.58 L137.4,37.59 L138.4,37.59 L139.4,37.59 L140.4,37.60 L141.4,37.60 L142.4,37.61 L143.4,37.61 L144.4,37.62 L145.4,37.62 L146.4,37.62 L147.4,37.63 L148.4,37.63 L149.4,37.64 L150.4,37.64 L151.4,37.65 L152.4,37.65 L153.4,37.65 L154.4,37.66 L155.4,37.66 L156.4,37.67 L157.4,37.67 L158.4,37.68 L159.4,37.68 L160.4,37.69 L161.4,37.69 L162.4,37.70 L163.4,37.70 L164.4,37.70 L165.4,37.71 L166.4,37.71 L167.4,37.72 L168.4,37.72 L169.4,37.73 L170.4,37.73 L171.4,37.74 L172.4,37.74 L173.4,37.75 L174.4,37.75 L175.4,37.76 L176.4,37.76 L177.4,37.77 L178.4,37.78 L179.4,37.78 L180.4,37.79 L181.4,37.79 L182.4,37.80 L183.4,37.80 L184.4,37.81 L185.4,37.81 L186.4,37.82 L187.4,37.83 L188.4,37.83 L189.4,37.84 L190.4,37.84 L191.4,37.85 L192.4,37.86 L193.4,37.86 L194.4,37.87 L195.4,37.88 L196.4,37.88 L197.4,37.89 L198.4,37.89 L199.4,37.90 L200.4,37.91 L201.4,37.91 L202.4,37.92 L203.4,37.93 L204.4,37.94 L205.4,37.94 L206.4,37.95 L207.4,37.96 L208.4,37.96 L209.4,37.97 L210.4,37.98 L211.4,37.99 L212.4,37.99 L213.4,38.00 L214.4,38.01 L215.4,38.02 L216.4,38.03 L217.4,38.03 L218.4,38.04 L219.4,38.05 L220.4,38.06 L221.4,38.07 L222.4,38.08 L223.4,38.09 L224.4,38.10 L225.4,38.10 L226.4,38.11 L227.4,38.12 L228.4,38.13 L229.4,38.14 L230.4,38.15 L231.4,38.16 L232.4,38.17 L233.4,38.18 L234.4,38.19 L235.4,38.20 L236.4,38.21 L237.4,38.22 L238.4,38.23 L239.4,38.24 L240.4,38.25 L241.4,38.27 L242.4,38.28 L243.4,38.29 L244.4,38.30 L245.4,38.31 L246.4,38.32 L247.4,38.34 L248.4,38.35 L249.4,38.36 L250.4,38.37 L251.4,38.38 L252.4,38.40 L253.4,38.41 L254.4,38.42 L255.4,38.44 L256.4,38.45 L257.4,38.46 L258.4,38.48 L259.4,38.49 L260.4,38.51 L261.4,38.52 L262.4,38.54 L263.4,38.55 L264.4,38.57 L265.4,38.58 L266.4,38.60 L267.4,38.61 L268.4,38.63 L269.4,38.64 L270.4,38.66 L271.4,38.68 L272.4,38.69 L273.4,38.71 L274.4,38.73 L275.4,38.74 L276.4,38.76 L277.4,38.78 L278.4,38.80 L279.4,38.82 L280.4,38.84 L281.4,38.85 L282.4,38.87 L283.4,38.89 L284.4,38.91 L285.4,38.93 L286.4,38.95 L287.4,38.97 L288.4,39.00 L289.4,39.02 L290.4,39.04 L291.4,39.06 L292.4,39.08 L293.4,39.10 L294.4,39.13 L295.4,39.15 L296.4,39.17 L297.4,39.20 L298.4,39.22 L299.4,39.25 L300.4,39.27 L301.4,39.30 L302.4,39.32 L303.4,39.35 L304.4,39.37 L305.4,39.40 L306.4,39.43 L307.4,39.45 L308.4,39.48 L309.4,39.51 L310.4,39.54 L311.4,39.57 L312.4,39.60 L313.4,39.63 L314.4,39.66 L315.4,39.69 L316.4,39.72 L317.4,39.75 L318.4,39.78 L319.4,39.81 L320.4,39.85 L321.4,39.88 L322.4,39.91 L323.4,39.95 L324.4,39.98 L325.4,40.02 L326.4,40.05 L327.4,40.09 L328.4,40.13 L329.4,40.16 L330.4,40.20 L331.4,40.24 L332.4,40.28 L333.4,40.32 L334.4,40.36 L335.4,40.40 L336.4,40.44 L337.4,40.48 L338.4,40.53 L339.4,40.57 L340.4,40.61 L341.4,40.66 L342.4,40.70 L343.4,40.75 L344.4,40.80 L345.4,40.84 L346.4,40.89 L347.4,40.94 L348.4,40.99 L349.4,41.04 L350.4,41.09 L351.4,41.14 L352.4,41.20 L353.4,41.25 L354.4,41.30 L355.4,41.36 L356.4,41.41 L357.4,41.47 L358.4,41.53 L359.4,41.59 L360.4,41.64 L361.4,41.70 L362.4,41.77 L363.4,41.83 L364.4,41.89 L365.4,41.95 L366.4,42.02 L367.4,42.08 L368.4,42.15 L369.4,42.22 L370.4,42.29 L371.4,42.36 L372.4,42.43 L373.4,42.50 L374.4,42.57 L375.4,42.65 L376.4,42.72 L377.4,42.80 L378.4,42.87 L379.4,42.95 L380.4,43.03 L381.4,43.11 L382.4,43.20 L383.4,43.28 L384.4,43.36 L385.4,43.45 L386.4,43.54 L387.4,43.63 L388.4,43.72 L389.4,43.81 L390.4,43.90 L391.4,43.99 L392.4,44.09 L393.4,44.19 L394.4,44.29 L395.4,44.39 L396.4,44.49 L397.4,44.59 L398.4,44.70 L399.4,44.80 L400.4,44.91 L401.4,45.02 L402.4,45.13 L403.4,45.25 L404.4,45.36 L405.4,45.48 L406.4,45.60 L407.4,45.72 L408.4,45.84 L409.4,45.96 L410.4,46.09 L411.4,46.22 L412.4,46.35 L413.4,46.48 L414.4,46.61 L415.4,46.75 L416.4,46.89 L417.4,47.03 L418.4,47.17 L419.4,47.32 L420.4,47.47 L421.4,47.62 L422.4,47.77 L423.4,47.92 L424.4,48.08 L425.4,48.24 L426.4,48.40 L427.4,48.57 L428.4,48.73 L429.4,48.90 L430.4,49.08 L431.4,49.25 L432.4,49.43 L433.4,49.61 L434.4,49.79 L435.4,49.98 L436.4,50.17 L437.4,50.36 L438.4,50.56 L439.4,50.76 L440.4,50.96 L441.4,51.16 L442.4,51.37 L443.4,51.58 L444.4,51.80 L445.4,52.02 L446.4,52.24 L447.4,52.47 L448.4,52.69 L449.4,52.93 L450.4,53.16 L451.4,53.41 L452.4,53.65 L453.4,53.90 L454.4,54.15 L455.4,54.41 L456.4,54.67 L457.4,54.93 L458.4,55.20 L459.4,55.48 L460.4,55.75 L461.4,56.04 L462.4,56.32 L463.4,56.61 L464.4,56.91 L465.4,57.21 L466.4,57.52 L467.4,57.83 L468.4,58.15 L469.4,58.47 L470.4,58.79 L471.4,59.13 L472.4,59.46 L473.4,59.81 L474.4,60.15 L475.4,60.51 L476.4,60.87 L477.4,61.24 L478.4,61.61 L479.4,61.99 L480.4,62.37 L481.4,62.76 L482.4,63.16 L483.4,63.56 L484.4,63.97 L485.4,64.39 L486.4,64.81 L487.4,65.24 L488.4,65.68 L489.4,66.13 L490.4,66.58 L491.4,67.04 L492.4,67.51 L493.4,67.98 L494.4,68.47 L495.4,68.96 L496.4,69.46 L497.4,69.97 L498.4,70.48 L499.4,71.01 L500.4,71.54 L501.4,72.08 L502.4,72.64 L503.4,73.20 L504.4,73.77 L505.4,74.35 L506.4,74.94 L507.4,75.54 L508.4,76.15 L509.4,76.77 L510.4,77.40 L511.4,78.04 L512.4,78.69 L513.4,79.35 L514.4,80.03 L515.4,80.71 L516.4,81.41 L517.4,82.12 L518.4,82.84 L519.4,83.57 L520.4,84.32 L521.4,85.08 L522.4,85.85 L523.4,86.63 L524.4,87.43 L525.4,88.24 L526.4,89.06 L527.4,89.90 L528.4,90.76 L529.4,91.62 L530.4,92.51 L531.4,93.40 L532.4,94.32 L533.4,95.24 L534.4,96.19 L535.4,97.15 L536.4,98.12 L537.4,99.12 L538.4,100.13 L539.4,101.16 L540.4,102.20 L541.4,103.27 L542.4,104.35 L543.4,105.45 L544.4,106.57 L545.4,107.71 L546.4,108.86 L547.4,110.04 L548.4,111.24 L549.4,112.46 L550.4,113.70 L551.4,114.96 L552.4,116.25 L553.4,117.55 L554.4,118.88 L555.4,120.23 L556.4,121.61 L557.4,123.01 L558.4,124.43 L559.4,125.88 L560.4,127.35 L561.4,128.85 L562.4,130.38 L563.4,131.93 L564.4,133.51 L565.4,135.11 L566.4,136.75 L567.4,138.41 L568.4,140.10 L569.4,141.83 L570.4,143.58 L571.4,145.36 L572.4,147.18 L573.4,149.02 L574.4,150.90 L575.4,152.81 L576.4,154.76 L577.4,156.74 L578.4,158.75 L579.4,160.80"/>
<path d="M92.4,37.40 L93.4,37.40 L94.4,37.41 L95.4,37.41 L96.4,37.42 L97.4,37.42 L98.4,37.42 L99.4,37.43 L100.4,37.43 L101.4,37.44 L102.4,37.44 L103.4,37.44 L104.4,37.45 L105.4,37.45 L106.4,37.46 L107.4,37.46 L108.4,37.46 L109.4,37.47 L110.4,37.47 L111.4,37.47 L112.4,37.48 L113.4,37.48 L114.4,37.49 L115.4,37.49 L116.4,37.49 L117.4,37.50 L118.4,37.50 L119.4,37.50 L120.4,37.51 L121.4,37.51 L122.4,37.52 L123.4,37.52 L124.4,37.52 L125.4,37.53 L126.4,37.53 L127.4,37.53 L128.4,37.54 L129.4,37.54 L130.4,37.54 L131.4,37.55 L132.4,37.55 L133.4,37.56 L134.4,37.56 L135.4,37.56 L136.4,37.57 L137.4,37.57 L138.4,37.57 L139.4,37.58 L140.4,37.58 L141.4,37.59 L142.4,37.59 L143.4,37.59 L144.4,37.60 L145.4,37.60 L146.4,37.61 L147.4,37.61 L148.4,37.61 L149.4,37.62 L150.4,37.62 L151.4,37.62 L152.4,37.63 L153.4,37.63 L154.4,37.64 L155.4,37.64 L156.4,37.65 L157.4,37.65 L158.4,37.65 L159.4,37.66 L160.4,37.66 L161.4,37.67 L162.4,37.67 L163.4,37.67 L164.4,37.68 L165.4,37.68 L166.4,37.69 L167.4,37.69 L168.4,37.70 L169.4,37.70 L170.4,37.71 L171.4,37.71 L172.4,37.72 L173.4,37.72 L174.4,37.72 L175.4,37.73 L176.4,37.73 L177.4,37.74 L178.4,37.74 L179.4,37.75 L180.4,37.75 L181.4,37.76 L182.4,37.76 L183.4,37.77 L184.4,37.77 L185.4,37.78 L186.4,37.78 L187.4,37.79 L188.4,37.80 L189.4,37.80 L190.4,37.81 L191.4,37.81 L192.4,37.82 L193.4,37.82 L194.4,37.83 L195.4,37.83 L196.4,37.84 L197.4,37.85 L198.4,37.85 L199.4,37.86 L200.4,37.86 L201.4,37.87 L202.4,37.88 L203.4,37.88 L204.4,37.89 L205.4,37.90 L206.4,37.90 L207.4,37.91 L208.4,37.92 L209.4,37.92 L210.4,37.93 L211.4,37.94 L212.4,37.94 L213.4,37.95 L214.4,37.96 L215.4,37.96 L216.4,37.97 L217.4,37.98 L218.4,37.99 L219.4,37.99 L220.4,38.00 L221.4,38.01 L222.4,38.02 L223.4,38.03 L224.4,38.03 L225.4,38.04 L226.4,38.05 L227.4,38.06 L228.4,38.07 L229.4,38.08 L230.4,38.08 L231.4,38.09 L232.4,38.10 L233.4,38.11 L234.4,38.12 L235.4,38.13 L236.4,38.14 L237.4,38.15 L238.4,38.16 L239.4,38.17 L240.4,38.18 L241.4,38.19 L242.4,38.20 L243.4,38.21 L244.4,38.22 L245.4,38.23 L246.4,38.24 L247.4,38.25 L248.4,38.26 L249.4,38.27 L250.4,38.28 L251.4,38.30 L252.4,38.31 L253.4,38.32 L254.4,38.33 L255.4,38.34 L256.4,38.36 L257.4,38.37 L258.4,38.38 L259.4,38.39 L260.4,38.41 L261.4,38.42 L262.4,38.43 L263.4,38.45 L264.4,38.46 L265.4,38.47 L266.4,38.49 L267.4,38.50 L268.4,38.51 L269.4,38.53 L270.4,38.54 L271.4,38.56 L272.4,38.57 L273.4,38.59 L274.4,38.60 L275.4,38.62 L276.4,38.64 L277.4,38.65 L278.4,38.67 L279.4,38.69 L280.4,38.70 L281.4,38.72 L282.4,38.74 L283.4,38.75 L284.4,38.77 L285.4,38.79 L286.4,38.81 L287.4,38.83 L288.4,38.85 L289.4,38.87 L290.4,38.88 L291.4,38.90 L292.4,38.92 L293.4,38.94 L294.4,38.96 L295.4,38.99 L296.4,39.01 L297.4,39.03 L298.4,39.05 L299.4,39.07 L300.4,39.09 L301.4,39.12 L302.4,39.14 L303.4,39.16 L304.4,39.19 L305.4,39.21 L306.4,39.23 L307.4,39.26 L308.4,39.28 L309.4,39.31 L310.4,39.33 L311.4,39.36 L312.4,39.39 L313.4,39.41 L314.4,39.44 L315.4,39.47 L316.4,39.50 L317.4,39.52 L318.4,39.55 L319.4,39.58 L320.4,39.61 L321.4,39.64 L322.4,39.67 L323.4,39.70 L324.4,39.73 L325.4,39.77 L326.4,39.80 L327.4,39.83 L328.4,39.86 L329.4,39.90 L330.4,39.93 L331.4,39.97 L332.4,40.00 L333.4,40.04 L334.4,40.07 L335.4,40.11 L336.4,40.15 L337.4,40.18 L338.4,40.22 L339.4,40.26 L340.4,40.30 L341.4,40.34 L342.4,40.38 L343.4,40.42 L344.4,40.46 L345.4,40.51 L346.4,40.55 L347.4,40.59 L348.4,40.64 L349.4,40.68 L350.4,40.73 L351.4,40.77 L352.4,40.82 L353.4,40.87 L354.4,40.92 L355.4,40.97 L356.4,41.02 L357.4,41.07 L358.4,41.12 L359.4,41.17 L360.4,41.22 L361.4,41.28 L362.4,41.33 L363.4,41.39 L364.4,41.44 L365.4,41.50 L366.4,41.56 L367.4,41.62 L368.4,41.67 L369.4,41.74 L370.4,41.80 L371.4,41.86 L372.4,41.92 L373.4,41.99 L374.4,42.05 L375.4,42.12 L376.4,42.18 L377.4,42.25 L378.4,42.32 L379.4,42.39 L380.4,42.46 L381.4,42.53 L382.4,42.61 L383.4,42.68 L384.4,42.76 L385.4,42.84 L386.4,42.91 L387.4,42.99 L388.4,43.07 L389.4,43.15 L390.4,43.24 L391.4,43.32 L392.4,43.41 L393.4,43.49 L394.4,43.58 L395.4,43.67 L396.4,43.76 L397.4,43.85 L398.4,43.95 L399.4,44.04 L400.4,44.14 L401.4,44.24 L402.4,44.34 L403.4,44.44 L404.4,44.54 L405.4,44.64 L406.4,44.75 L407.4,44.86 L408.4,44.97 L409.4,45.08 L410.4,45.19 L411.4,45.30 L412.4,45.42 L413.4,45.54 L414.4,45.66 L415.4,45.78 L416.4,45.90 L417.4,46.03 L418.4,46.15 L419.4,46.28 L420.4,46.41 L421.4,46.55 L422.4,46.68 L423.4,46.82 L424.4,46.96 L425.4,47.10 L426.4,47.25 L427.4,47.39 L428.4,47.54 L429.4,47.69 L430.4,47.84 L431.4,48.00 L432.4,48.16 L433.4,48.32 L434.4,48.48 L435.4,48.65 L436.4,48.82 L437.4,48.99 L438.4,49.16 L439.4,49.34 L440.4,49.52 L441.4,49.70 L442.4,49.89 L443.4,50.07 L444.4,50.26 L445.4,50.46 L446.4,50.66 L447.4,50.86 L448.4,51.06 L449.4,51.27 L450.4,51.48 L451.4,51.69 L452.4,51.91 L453.4,52.13 L454.4,52.35 L455.4,52.58 L456.4,52.81 L457.4,53.05 L458.4,53.28 L459.4,53.53 L460.4,53.77 L461.4,54.02 L462.4,54.28 L463.4,54.54 L464.4,54.80 L465.4,55.07 L466.4,55.34 L467.4,55.61 L468.4,55.89 L469.4,56.18 L470.4,56.47 L471.4,56.76 L472.4,57.06 L473.4,57.36 L474.4,57.67 L475.4,57.99 L476.4,58.31 L477.4,58.63 L478.4,58.96 L479.4,59.29 L480.4,59.63 L481.4,59.98 L482.4,60.33 L483.4,60.69 L484.4,61.05 L485.4,61.42 L486.4,61.79 L487.4,62.18 L488.4,62.56 L489.4,62.96 L490.4,63.36 L491.4,63.76 L492.4,64.18 L493.4,64.60 L494.4,65.03 L495.4,65.46 L496.4,65.90 L497.4,66.35 L498.4,66.81 L499.4,67.27 L500.4,67.74 L501.4,68.22 L502.4,68.71 L503.4,69.21 L504.4,69.71 L505.4,70.22 L506.4,70.74 L507.4,71.27 L508.4,71.81 L509.4,72.36 L510.4,72.91 L511.4,73.48 L512.4,74.06 L513.4,74.64 L514.4,75.24 L515.4,75.84 L516.4,76.46 L517.4,77.08 L518.4,77.72 L519.4,78.36 L520.4,79.02 L521.4,79.69 L522.4,80.37 L523.4,81.06 L524.4,81.76 L525.4,82.48 L526.4,83.20 L527.4,83.94 L528.4,84.69 L529.4,85.46 L530.4,86.24 L531.4,87.03 L532.4,87.83 L533.4,88.65 L534.4,89.48 L535.4,90.33 L536.4,91.19 L537.4,92.06 L538.4,92.95 L539.4,93.86 L540.4,94.78 L541.4,95.71 L542.4,96.66 L543.4,97.63 L544.4,98.62 L545.4,99.62 L546.4,100.64 L547.4,101.67 L548.4,102.73 L549.4,103.80 L550.4,104.89 L551.4,106.00 L552.4,107.13 L553.4,108.28 L554.4,109.45 L555.4,110.64 L556.4,111.84 L557.4,113.07 L558.4,114.33 L559.4,115.60 L560.4,116.89 L561.4,118.21 L562.4,119.55 L563.4,120.91 L564.4,122.30 L565.4,123.71 L566.4,125.15 L567.4,126.61 L568.4,128.09 L569.4,129.61 L570.4,131.14 L571.4,132.71 L572.4,134.30 L573.4,135.92 L574.4,137.57 L575.4,139.25 L576.4,140.96 L577.4,142.69 L578.4,144.46 L579.4,146.26"/>
<path d="M92.4,37.40 L93.4,37.40 L94.4,37.41 L95.4,37.41 L96.4,37.42 L97.4,37.42 L98.4,37.42 L99.4,37.43 L100.4,37.43 L101.4,37.43 L102.4,37.44 L103.4,37.44 L104.4,37.45 L105.4,37.45 L106.4,37.45 L107.4,37.46 L108.4,37.46 L109.4,37.46 L110.4,37.47 L111.4,37.47 L112.4,37.47 L113.4,37.48 L114.4,37.48 L115.4,37.48 L116.4,37.49 L117.4,37.49 L118.4,37.49 L119.4,37.50 L120.4,37.50 L121.4,37.51 L122.4,37.51 L123.4,37.51 L124.4,37.52 L125.4,37.52 L126.4,37.52 L127.4,37.53 L128.4,37.53 L129.4,37.53 L130.4,37.54 L131.4,37.54 L132.4,37.54 L133.4,37.55 L134.4,37.55 L135.4,37.55 L136.4,37.56 L137.4,37.56 L138.4,37.56 L139.4,37.57 L140.4,37.57 L141.4,37.58 L142.4,37.58 L143.4,37.58 L144.4,37.59 L145.4,37.59 L146.4,37.59 L147.4,37.60 L148.4,37.60 L149.4,37.60 L150.4,37.61 L151.4,37.61 L152.4,37.62 L153.4,37.62 L154.4,37.62 L155.4,37.63 L156.4,37.63 L157.4,37.63 L158.4,37.64 L159.4,37.64 L160.4,37.65 L161.4,37.65 L162.4,37.65 L163.4,37.66 L164.4,37.66 L165.4,37.67 L166.4,37.67 L167.4,37.67 L168.4,37.68 L169.4,37.68 L170.4,37.69 L171.4,37.69 L172.4,37.70 L173.4,37.70 L174.4,37.70 L175.4,37.71 L176.4,37.71 L177.4,37.72 L178.4,37.72 L179.4,37.73 L180.4,37.73 L181.4,37.74 L182.4,37.74 L183.4,37.75 L184.4,37.75 L185.4,37.76 L186.4,37.76 L187.4,37.77 L188.4,37.77 L189.4,37.78 L190.4,37.78 L191.4,37.79 L192.4,37.79 L193.4,37.80 L194.4,37.80 L195.4,37.81 L196.4,37.81 L197.4,37.82 L198.4,37.82 L199.4,37.83 L200.4,37.84 L201.4,37.84 L202.4,37.85 L203.4,37.85 L204.4,37.86 L205.4,37.87 L206.4,37.87 L207.4,37.88 L208.4,37.88 L209.4,37.89 L210.4,37.90 L211.4,37.90 L212.4,37.91 L213.4,37.92 L214.4,37.92 L215.4,37.93 L216.4,37.94 L217.4,37.94 L218.4,37.95 L219.4,37.96 L220.4,37.96 L221.4,37.97 L222.4,37.98 L223.4,37.99 L224.4,37.99 L225.4,38.00 L226.4,38.01 L227.4,38.02 L228.4,38.03 L229.4,38.03 L230.4,38.04 L231.4,38.05 L232.4,38.06 L233.4,38.07 L234.4,38.08 L235.4,38.08 L236.4,38.09 L237.4,38.10 L238.4,38.11 L239.4,38.12 L240.4,38.13 L241.4,38.14 L242.4,38.15 L243.4,38.16 L244.4,38.17 L245.4,38.18 L246.4,38.19 L247.4,38.20 L248.4,38.21 L249.4,38.22 L250.4,38.23 L251.4,38.24 L252.4,38.25 L253.4,38.26 L254.4,38.27 L255.4,38.28 L256.4,38.29 L257.4,38.31 L258.4,38.32 L259.4,38.33 L260.4,38.34 L261.4,38.35 L262.4,38.36 L263.4,38.38 L264.4,38.39 L265.4,38.40 L266.4,38.42 L267.4,38.43 L268.4,38.44 L269.4,38.46 L270.4,38.47 L271.4,38.48 L272.4,38.50 L273.4,38.51 L274.4,38.53 L275.4,38.54 L276.4,38.56 L277.4,38.57 L278.4,38.59 L279.4,38.60 L280.4,38.62 L281.4,38.63 L282.4,38.65 L283.4,38.67 L284.4,38.68 L285.4,38.70 L286.4,38.72 L287.4,38.73 L288.4,38.75 L289.4,38.77 L290.4,38.79 L291.4,38.80 L292.4,38.82 L293.4,38.84 L294.4,38.86 L295.4,38.88 L296.4,38.90 L297.4,38.92 L298.4,38.94 L299.4,38.96 L300.4,38.98 L301.4,39.00 L302.4,39.02 L303.4,39.04 L304.4,39.07 L305.4,39.09 L306.4,39.11 L307.4,39.13 L308.4,39.16 L309.4,39.18 L310.4,39.20 L311.4,39.23 L312.4,39.25 L313.4,39.28 L314.4,39.30 L315.4,39.33 L316.4,39.35 L317.4,39.38 L318.4,39.41 L319.4,39.43 L320.4,39.46 L321.4,39.49 L322.4,39.52 L323.4,39.54 L324.4,39.57 L325.4,39.60 L326.4,39.63 L327.4,39.66 L328.4,39.69 L329.4,39.72 L330.4,39.76 L331.4,39.79 L332.4,39.82 L333.4,39.85 L334.4,39.89 L335.4,39.92 L336.4,39.96 L337.4,39.99 L338.4,40.03 L339.4,40.06 L340.4,40.10 L341.4,40.14 L342.4,40.17 L343.4,40.21 L344.4,40.25 L345.4,40.29 L346.4,40.33 L347.4,40.37 L348.4,40.41 L349.4,40.45 L350.4,40.49 L351.4,40.54 L352.4,40.58 L353.4,40.62 L354.4,40.67 L355.4,40.71 L356.4,40.76 L357.4,40.81 L358.4,40.85 L359.4,40.90 L360.4,40.95 L361.4,41.00 L362.4,41.05 L363.4,41.10 L364.4,41.15 L365.4,41.21 L366.4,41.26 L367.4,41.31 L368.4,41.37 L369.4,41.43 L370.4,41.48 L371.4,41.54 L372.4,41.60 L373.4,41.66 L374.4,41.72 L375.4,41.78 L376.4,41.84 L377.4,41.90 L378.4,41.97 L379.4,42.03 L380.4,42.10 L381.4,42.16 L382.4,42.23 L383.4,42.30 L384.4,42.37 L385.4,42.44 L386.4,42.51 L387.4,42.59 L388.4,42.66 L389.4,42.74 L390.4,42.81 L391.4,42.89 L392.4,42.97 L393.4,43.05 L394.4,43.13 L395.4,43.21 L396.4,43.30 L397.4,43.38 L398.4,43.47 L399.4,43.56 L400.4,43.64 L401.4,43.73 L402.4,43.83 L403.4,43.92 L404.4,44.01 L405.4,44.11 L406.4,44.21 L407.4,44.31 L408.4,44.41 L409.4,44.51 L410.4,44.61 L411.4,44.72 L412.4,44.82 L413.4,44.93 L414.4,45.04 L415.4,45.16 L416.4,45.27 L417.4,45.38 L418.4,45.50 L419.4,45.62 L420.4,45.74 L421.4,45.86 L422.4,45.99 L423.4,46.12 L424.4,46.24 L425.4,46.37 L426.4,46.51 L427.4,46.64 L428.4,46.78 L429.4,46.92 L430.4,47.06 L431.4,47.20 L432.4,47.35 L433.4,47.50 L434.4,47.65 L435.4,47.80 L436.4,47.95 L437.4,48.11 L438.4,48.27 L439.4,48.43 L440.4,48.60 L441.4,48.77 L442.4,48.94 L443.4,49.11 L444.4,49.29 L445.4,49.46 L446.4,49.65 L447.4,49.83 L448.4,50.02 L449.4,50.21 L450.4,50.40 L451.4,50.60 L452.4,50.80 L453.4,51.00 L454.4,51.21 L455.4,51.41 L456.4,51.63 L457.4,51.84 L458.4,52.06 L459.4,52.29 L460.4,52.51 L461.4,52.74 L462.4,52.98 L463.4,53.21 L464.4,53.45 L465.4,53.70 L466.4,53.95 L467.4,54.20 L468.4,54.46 L469.4,54.72 L470.4,54.99 L471.4,55.26 L472.4,55.53 L473.4,55.81 L474.4,56.09 L475.4,56.38 L476.4,56.67 L477.4,56.97 L478.4,57.27 L479.4,57.58 L480.4,57.89 L481.4,58.21 L482.4,58.53 L483.4,58.86 L484.4,59.19 L485.4,59.53 L486.4,59.88 L487.4,60.23 L488.4,60.58 L489.4,60.94 L490.4,61.31 L491.4,61.68 L492.4,62.06 L493.4,62.45 L494.4,62.84 L495.4,63.24 L496.4,63.64 L497.4,64.05 L498.4,64.47 L499.4,64.90 L500.4,65.33 L501.4,65.77 L502.4,66.22 L503.4,66.67 L504.4,67.13 L505.4,67.60 L506.4,68.08 L507.4,68.57 L508.4,69.06 L509.4,69.56 L510.4,70.07 L511.4,70.59 L512.4,71.12 L513.4,71.65 L514.4,72.20 L515.4,72.75 L516.4,73.31 L517.4,73.88 L518.4,74.47 L519.4,75.06 L520.4,75.66 L521.4,76.27 L522.4,76.89 L523.4,77.53 L524.4,78.17 L525.4,78.82 L526.4,79.49 L527.4,80.17 L528.4,80.85 L529.4,81.55 L530.4,82.26 L531.4,82.99 L532.4,83.72 L533.4,84.47 L534.4,85.23 L535.4,86.00 L536.4,86.79 L537.4,87.59 L538.4,88.41 L539.4,89.23 L540.4,90.07 L541.4,90.93 L542.4,91.80 L543.4,92.69 L544.4,93.59 L545.4,94.50 L546.4,95.43 L547.4,96.38 L548.4,97.34 L549.4,98.32 L550.4,99.32 L551.4,100.33 L552.4,101.37 L553.4,102.42 L554.4,103.48 L555.4,104.57 L556.4,105.67 L557.4,106.79 L558.4,107.94 L559.4,109.10 L560.4,110.28 L561.4,111.48 L562.4,112.71 L563.4,113.95 L564.4,115.22 L565.4,116.51 L566.4,117.82 L567.4,119.15 L568.4,120.51 L569.4,121.89 L570.4,123.29 L571.4,124.72 L572.4,126.17 L573.4,127.65 L574.4,129.16 L575.4,130.69 L576.4,132.24 L577.4,133.83 L578.4,135.44 L579.4,137.08"/>
<path d="M92.4,37.40 L93.4,37.40 L94.4,37.41 L95.4,37.41 L96.4,37.41 L97.4,37.42 L98.4,37.42 L99.4,37.42 L100.4,37.43 L101.4,37.43 L102.4,37.44 L103.4,37.44 L104.4,37.44 L105.4,37.45 L106.4,37.45 L107.4,37.45 L108.4,37.46 L109.4,37.46 L110.4,37.46 L111.4,37.47 L112.4,37.47 L113.4,37.47 L114.4,37.48 L115.4,37.48 L116.4,37.48 L117.4,37.49 L118.4,37.49 L119.4,37.49 L120.4,37.50 L121.4,37.50 L122.4,37.50 L123.4,37.50 L124.4,37.51 L125.4,37.51 L126.4,37.51 L127.4,37.52 L128.4,37.52 L129.4,37.52 L130.4,37.53 L131.4,37.53 L132.4,37.53 L133.4,37.54 L134.4,37.54 L135.4,37.54 L136.4,37.55 L137.4,37.55 L138.4,37.55 L139.4,37.56 L140.4,37.56 L141.4,37.56 L142.4,37.57 L143.4,37.57 L144.4,37.57 L145.4,37.58 L146.4,37.58 L147.4,37.58 L148.4,37.59 L149.4,37.59 L150.4,37.59 L151.4,37.60 L152.4,37.60 L153.4,37.61 L154.4,37.61 L155.4,37.61 L156.4,37.62 L157.4,37.62 L158.4,37.62 L159.4,37.63 L160.4,37.63 L161.4,37.63 L162.4,37.64 L163.4,37.64 L164.4,37.65 L165.4,37.65 L166.4,37.65 L167.4,37.66 L168.4,37.66 L169.4,37.66 L170.4,37.67 L171.4,37.67 L172.4,37.68 L173.4,37.68 L174.4,37.68 L175.4,37.69 L176.4,37.69 L177.4,37.70 L178.4,37.70 L179.4,37.71 L180.4,37.71 L181.4,37.71 L182.4,37.72 L183.4,37.72 L184.4,37.73 L185.4,37.73 L186.4,37.74 L187.4,37.74 L188.4,37.75 L189.4,37.75 L190.4,37.76 L191.4,37.76 L192.4,37.77 L193.4,37.77 L194.4,37.78 L195.4,37.78 L196.4,37.79 L197.4,37.79 L198.4,37.80 L199.4,37.80 L200.4,37.81 L201.4,37.81 L202.4,37.82 L203.4,37.82 L204.4,37.83 L205.4,37.83 L206.4,37.84 L207.4,37.84 L208.4,37.85 L209.4,37.86 L210.4,37.86 L211.4,37.87 L212.4,37.87 L213.4,37.88 L214.4,37.89 L215.4,37.89 L216.4,37.90 L217.4,37.91 L218.4,37.91 L219.4,37.92 L220.4,37.93 L221.4,37.93 L222.4,37.94 L223.4,37.95 L224.4,37.95 L225.4,37.96 L226.4,37.97 L227.4,37.97 L228.4,37.98 L229.4,37.99 L230.4,38.00 L231.4,38.00 L232.4,38.01 L233.4,38.02 L234.4,38.03 L235.4,38.04 L236.4,38.04 L237.4,38.05 L238.4,38.06 L239.4,38.07 L240.4,38.08 L241.4,38.09 L242.4,38.09 L243.4,38.10 L244.4,38.11 L245.4,38.12 L246.4,38.13 L247.4,38.14 L248.4,38.15 L249.4,38.16 L250.4,38.17 L251.4,38.18 L252.4,38.19 L253.4,38.20 L254.4,38.21 L255.4,38.22 L256.4,38.23 L257.4,38.24 L258.4,38.25 L259.4,38.26 L260.4,38.27 L261.4,38.28 L262.4,38.30 L263.4,38.31 L264.4,38.32 L265.4,38.33 L266.4,38.34 L267.4,38.35 L268.4,38.37 L269.4,38.38 L270.4,38.39 L271.4,38.40 L272.4,38.42 L273.4,38.43 L274.4,38.44 L275.4,38.46 L276.4,38.47 L277.4,38.48 L278.4,38.50 L279.4,38.51 L280.4,38.53 L281.4,38.54 L282.4,38.56 L283.4,38.57 L284.4,38.59 L285.4,38.60 L286.4,38.62 L287.4,38.63 L288.4,38.65 L289.4,38.67 L290.4,38.68 L291.4,38.70 L292.4,38.72 L293.4,38.73 L294.4,38.75 L295.4,38.77 L296.4,38.79 L297.4,38.81 L298.4,38.82 L299.4,38.84 L300.4,38.86 L301.4,38.88 L302.4,38.90 L303.4,38.92 L304.4,38.94 L305.4,38.96 L306.4,38.98 L307.4,39.00 L308.4,39.02 L309.4,39.05 L310.4,39.07 L311.4,39.09 L312.4,39.11 L313.4,39.13 L314.4,39.16 L315.4,39.18 L316.4,39.21 L317.4,39.23 L318.4,39.25 L319.4,39.28 L320.4,39.30 L321.4,39.33 L322.4,39.35 L323.4,39.38 L324.4,39.41 L325.4,39.43 L326.4,39.46 L327.4,39.49 L328.4,39.52 L329.4,39.55 L330.4,39.58 L331.4,39.61 L332.4,39.64 L333.4,39.67 L334.4,39.70 L335.4,39.73 L336.4,39.76 L337.4,39.79 L338.4,39.82 L339.4,39.86 L340.4,39.89 L341.4,39.92 L342.4,39.96 L343.4,39.99 L344.4,40.03 L345.4,40.06 L346.4,40.10 L347.4,40.14 L348.4,40.18 L349.4,40.21 L350.4,40.25 L351.4,40.29 L352.4,40.33 L353.4,40.37 L354.4,40.41 L355.4,40.45 L356.4,40.50 L357.4,40.54 L358.4,40.58 L359.4,40.63 L360.4,40.67 L361.4,40.72 L362.4,40.76 L363.4,40.81 L364.4,40.86 L365.4,40.91 L366.4,40.96 L367.4,41.00 L368.4,41.06 L369.4,41.11 L370.4,41.16 L371.4,41.21 L372.4,41.26 L373.4,41.32 L374.4,41.37 L375.4,41.43 L376.4,41.49 L377.4,41.54 L378.4,41.60 L379.4,41.66 L380.4,41.72 L381.4,41.78 L382.4,41.84 L383.4,41.91 L384.4,41.97 L385.4,42.04 L386.4,42.10 L387.4,42.17 L388.4,42.24 L389.4,42.31 L390.4,42.38 L391.4,42.45 L392.4,42.52 L393.4,42.59 L394.4,42.67 L395.4,42.74 L396.4,42.82 L397.4,42.90 L398.4,42.97 L399.4,43.05 L400.4,43.14 L401.4,43.22 L402.4,43.30 L403.4,43.39 L404.4,43.47 L405.4,43.56 L406.4,43.65 L407.4,43.74 L408.4,43.83 L409.4,43.93 L410.4,44.02 L411.4,44.12 L412.4,44.21 L413.4,44.31 L414.4,44.41 L415.4,44.52 L416.4,44.62 L417.4,44.73 L418.4,44.83 L419.4,44.94 L420.4,45.05 L421.4,45.16 L422.4,45.28 L423.4,45.39 L424.4,45.51 L425.4,45.63 L426.4,45.75 L427.4,45.87 L428.4,46.00 L429.4,46.12 L430.4,46.25 L431.4,46.38 L432.4,46.52 L433.4,46.65 L434.4,46.79 L435.4,46.93 L436.4,47.07 L437.4,47.21 L438.4,47.36 L439.4,47.51 L440.4,47.66 L441.4,47.81 L442.4,47.97 L443.4,48.12 L444.4,48.28 L445.4,48.45 L446.4,48.61 L447.4,48.78 L448.4,48.95 L449.4,49.12 L450.4,49.30 L451.4,49.48 L452.4,49.66 L453.4,49.84 L454.4,50.03 L455.4,50.22 L456.4,50.41 L457.4,50.61 L458.4,50.81 L459.4,51.01 L460.4,51.22 L461.4,51.43 L462.4,51.64 L463.4,51.86 L464.4,52.08 L465.4,52.30 L466.4,52.53 L467.4,52.76 L468.4,52.99 L469.4,53.23 L470.4,53.47 L471.4,53.72 L472.4,53.97 L473.4,54.22 L474.4,54.48 L475.4,54.74 L476.4,55.01 L477.4,55.28 L478.4,55.55 L479.4,55.83 L480.4,56.11 L481.4,56.40 L482.4,56.70 L483.4,56.99 L484.4,57.30 L485.4,57.60 L486.4,57.92 L487.4,58.23 L488.4,58.56 L489.4,58.88 L490.4,59.22 L491.4,59.56 L492.4,59.90 L493.4,60.25 L494.4,60.61 L495.4,60.97 L496.4,61.34 L497.4,61.71 L498.4,62.09 L499.4,62.48 L500.4,62.87 L501.4,63.27 L502.4,63.67 L503.4,64.08 L504.4,64.50 L505.4,64.93 L506.4,65.36 L507.4,65.80 L508.4,66.25 L509.4,66.70 L510.4,67.17 L511.4,67.64 L512.4,68.11 L513.4,68.60 L514.4,69.09 L515.4,69.60 L516.4,70.11 L517.4,70.63 L518.4,71.15 L519.4,71.69 L520.4,72.23 L521.4,72.79 L522.4,73.35 L523.4,73.93 L524.4,74.51 L525.4,75.10 L526.4,75.70 L527.4,76.32 L528.4,76.94 L529.4,77.57 L530.4,78.22 L531.4,78.87 L532.4,79.54 L533.4,80.21 L534.4,80.90 L535.4,81.60 L536.4,82.32 L537.4,83.04 L538.4,83.78 L539.4,84.52 L540.4,85.29 L541.4,86.06 L542.4,86.85 L543.4,87.65 L544.4,88.46 L545.4,89.29 L546.4,90.13 L547.4,90.99 L548.4,91.86 L549.4,92.75 L550.4,93.65 L551.4,94.57 L552.4,95.50 L553.4,96.45 L554.4,97.41 L555.4,98.39 L556.4,99.39 L557.4,100.41 L558.4,101.44 L559.4,102.49 L560.4,103.56 L561.4,104.65 L562.4,105.75 L563.4,106.88 L564.4,108.02 L565.4,109.18 L566.4,110.37 L567.4,111.57 L568.4,112.80 L569.4,114.04 L570.4,115.31 L571.4,116.60 L572.4,117.91 L573.4,119.25 L574.4,120.61 L575.4,121.99 L576.4,123.39 L577.4,124.82 L578.4,126.28 L579.4,127.76"/>
</g>
<g filter="url(#f)">
<g fill="#000">
<text transform="translate(70.58,42.59) scale(0.8947,0.8099)" class="sa" font-style="normal" font-weight="normal" font-size="20.0" stroke="#000" stroke-width="0.470" stroke-linejoin="round">0</text>
<text transform="translate(45.75,113.79) scale(0.9368,0.8099)" class="sa" font-style="normal" font-weight="normal" font-size="20.0" stroke="#000" stroke-width="0.459" stroke-linejoin="round">0</text>
<text transform="translate(61.05,113.79) scale(0.9368,0.8099)" class="sa" font-style="normal" font-weight="normal" font-size="20.0" stroke="#000" stroke-width="0.459" stroke-linejoin="round">0</text>
<text transform="translate(71.70,113.95) scale(0.8022,0.8214)" class="sa" font-style="normal" font-weight="normal" font-size="20.0" stroke="#000" stroke-width="0.493" stroke-linejoin="round">2</text>
<text transform="translate(45.75,184.99) scale(0.9368,0.8099)" class="sa" font-style="normal" font-weight="normal" font-size="20.0" stroke="#000" stroke-width="0.459" stroke-linejoin="round">0</text>
<text transform="translate(61.05,184.99) scale(0.9368,0.8099)" class="sa" font-style="normal" font-weight="normal" font-size="20.0" stroke="#000" stroke-width="0.459" stroke-linejoin="round">0</text>
<text transform="translate(72.14,185.15) scale(0.7300,0.8333)" class="sa" font-style="normal" font-weight="normal" font-size="20.0" stroke="#000" stroke-width="0.513" stroke-linejoin="round">4</text>
<text transform="translate(45.75,256.19) scale(0.9368,0.8099)" class="sa" font-style="normal" font-weight="normal" font-size="20.0" stroke="#000" stroke-width="0.459" stroke-linejoin="round">0</text>
<text transform="translate(61.05,256.19) scale(0.9368,0.8099)" class="sa" font-style="normal" font-weight="normal" font-size="20.0" stroke="#000" stroke-width="0.459" stroke-linejoin="round">0</text>
<text transform="translate(71.71,256.19) scale(0.7935,0.8099)" class="sa" font-style="normal" font-weight="normal" font-size="20.0" stroke="#000" stroke-width="0.499" stroke-linejoin="round">6</text>
<text transform="translate(45.75,327.39) scale(0.9368,0.8099)" class="sa" font-style="normal" font-weight="normal" font-size="20.0" stroke="#000" stroke-width="0.459" stroke-linejoin="round">0</text>
<text transform="translate(61.05,327.39) scale(0.9368,0.8099)" class="sa" font-style="normal" font-weight="normal" font-size="20.0" stroke="#000" stroke-width="0.459" stroke-linejoin="round">0</text>
<text transform="translate(71.80,327.39) scale(0.7766,0.8099)" class="sa" font-style="normal" font-weight="normal" font-size="20.0" stroke="#000" stroke-width="0.504" stroke-linejoin="round">8</text>
<text transform="translate(55.16,398.59) scale(0.9263,0.8099)" class="sa" font-style="normal" font-weight="normal" font-size="20.0" stroke="#000" stroke-width="0.462" stroke-linejoin="round">0</text>
<text transform="translate(69.84,398.75) scale(0.9070,0.8333)" class="sa" font-style="normal" font-weight="normal" font-size="20.0" stroke="#000" stroke-width="0.460" stroke-linejoin="round">1</text>
<text transform="translate(146.87,417.70) scale(0.7558,0.8623)" class="sa" font-style="normal" font-weight="normal" font-size="20.0" stroke="#000" stroke-width="0.495" stroke-linejoin="round">1</text>
<text transform="translate(155.95,417.53) scale(0.9368,0.8380)" class="sa" font-style="normal" font-weight="normal" font-size="20.0" stroke="#000" stroke-width="0.451" stroke-linejoin="round">0</text>
<text transform="translate(166.75,409.45) scale(0.6044,0.6500)" class="sa" font-style="normal" font-weight="normal" font-size="20.0" stroke="#000" stroke-width="0.798" stroke-linejoin="round">2</text>
<text transform="translate(367.47,417.70) scale(0.7558,0.8623)" class="sa" font-style="normal" font-weight="normal" font-size="20.0" stroke="#000" stroke-width="0.495" stroke-linejoin="round">1</text>
<text transform="translate(376.55,417.53) scale(0.9368,0.8380)" class="sa" font-style="normal" font-weight="normal" font-size="20.0" stroke="#000" stroke-width="0.451" stroke-linejoin="round">0</text>
<text transform="translate(387.12,409.72) scale(0.6596,0.6549)" class="sa" font-style="normal" font-weight="normal" font-size="20.0" stroke="#000" stroke-width="0.761" stroke-linejoin="round">3</text>
<text transform="translate(489.91,51.86) scale(0.8548,0.9478)" class="se" font-style="italic" font-weight="normal" font-size="20.0" fill="#0000ff" stroke="#0000ff" stroke-width="1.000" stroke-linejoin="round">C</text>
<text transform="translate(507.89,52.07) scale(0.8585,1.0241)" class="sa" font-style="normal" font-weight="normal" font-size="20.0" fill="#0000ff" stroke="#0000ff" stroke-width="0.480" stroke-linejoin="round">(</text>
<text transform="translate(515.33,52.20) scale(0.9325,0.8838)" class="sa" font-style="normal" font-weight="normal" font-size="20.0" fill="#0000ff" stroke="#0000ff" stroke-width="0.496" stroke-linejoin="round">10</text>
<text transform="translate(535.18,52.03) scale(1.4474,0.8587)" class="sa" font-style="normal" font-weight="normal" font-size="20.0" fill="#0000ff" stroke="#0000ff" stroke-width="0.404" stroke-linejoin="round">,</text>
<text transform="translate(542.93,52.20) scale(0.9275,0.8838)" class="sa" font-style="normal" font-weight="normal" font-size="20.0" fill="#0000ff" stroke="#0000ff" stroke-width="0.497" stroke-linejoin="round">10</text>
<text transform="translate(565.03,52.07) scale(0.9904,1.0241)" class="sa" font-style="normal" font-weight="normal" font-size="20.0" fill="#0000ff" stroke="#0000ff" stroke-width="0.447" stroke-linejoin="round">)</text>
<text transform="translate(390.50,322.46) scale(0.8629,0.9701)" class="se" font-style="italic" font-weight="normal" font-size="20.0" fill="#0000ff" stroke="#0000ff" stroke-width="0.984" stroke-linejoin="round">C</text>
<text transform="translate(407.75,322.40) scale(0.8962,1.0053)" class="sa" font-style="normal" font-weight="normal" font-size="20.0" fill="#0000ff" stroke="#0000ff" stroke-width="0.474" stroke-linejoin="round">(</text>
<text transform="translate(415.14,322.47) scale(0.8547,0.9094)" class="sa" font-style="normal" font-weight="normal" font-size="20.0" fill="#0000ff" stroke="#0000ff" stroke-width="0.510" stroke-linejoin="round">1</text>
<text transform="translate(424.18,322.41) scale(1.7105,0.9457)" class="sa" font-style="normal" font-weight="normal" font-size="20.0" fill="#0000ff" stroke="#0000ff" stroke-width="0.354" stroke-linejoin="round">,</text>
<text transform="translate(431.62,322.47) scale(0.9360,0.9094)" class="sa" font-style="normal" font-weight="normal" font-size="20.0" fill="#0000ff" stroke="#0000ff" stroke-width="0.488" stroke-linejoin="round">1</text>
<text transform="translate(443.72,322.40) scale(1.0288,1.0053)" class="sa" font-style="normal" font-weight="normal" font-size="20.0" fill="#0000ff" stroke="#0000ff" stroke-width="0.442" stroke-linejoin="round">)</text>
<path d="M33.70,108.45 H42.95" stroke="#000" stroke-width="1.25" stroke-linecap="round" fill="none"/>
<rect x="57.40" y="112.05" width="2.20" height="2.1" rx="0.7" fill="#000"/>
<path d="M33.70,179.65 H42.95" stroke="#000" stroke-width="1.25" stroke-linecap="round" fill="none"/>
<rect x="57.40" y="183.25" width="2.20" height="2.1" rx="0.7" fill="#000"/>
<path d="M33.70,250.85 H42.95" stroke="#000" stroke-width="1.25" stroke-linecap="round" fill="none"/>
<rect x="57.40" y="254.45" width="2.20" height="2.1" rx="0.7" fill="#000"/>
<path d="M33.70,322.05 H42.95" stroke="#000" stroke-width="1.25" stroke-linecap="round" fill="none"/>
<rect x="57.40" y="325.65" width="2.20" height="2.1" rx="0.7" fill="#000"/>
<path d="M43.55,393.25 H53.80" stroke="#000" stroke-width="1.25" stroke-linecap="round" fill="none"/>
<rect x="66.80" y="396.85" width="2.20" height="2.1" rx="0.7" fill="#000"/>
<path d="M328.60,430.04 L330.66,429.70 L327.94,440.66 Q327.66,442.49 329.35,442.20 Q330.66,441.82 331.60,440.09" fill="none" stroke="#000" stroke-width="1.8" stroke-linecap="round" stroke-linejoin="round"/>
<path d="M503.10,49.69 L504.78,49.45 L502.56,57.11 Q502.34,58.38 503.71,58.18 Q504.78,57.91 505.55,56.70" fill="none" stroke="#0000ff" stroke-width="1.7" stroke-linecap="round" stroke-linejoin="round"/>
<path d="M403.76,320.30 L405.61,320.05 L403.18,328.06 Q402.92,329.39 404.44,329.18 Q405.61,328.90 406.45,327.63" fill="none" stroke="#0000ff" stroke-width="1.7" stroke-linecap="round" stroke-linejoin="round"/>
</g>
<g transform="translate(0,246) rotate(-90)" fill="#000">
<text transform="translate(-0.40,16.39) scale(0.9113,1.0448)" class="se" font-style="italic" font-weight="normal" font-size="20.0" stroke="#000" stroke-width="0.615" stroke-linejoin="round">C</text>
<text transform="translate(17.63,23.79) scale(0.5641,0.6500)" class="se" font-style="normal" font-weight="bold" font-size="20.0">,</text>
<text transform="translate(21.04,23.97) scale(1.1059,0.7045)" class="se" font-style="normal" font-weight="normal" font-size="20.0" stroke="#000" stroke-width="0.397" stroke-linejoin="round">pert</text>
<text transform="translate(69.40,16.39) scale(0.9113,1.0448)" class="se" font-style="italic" font-weight="normal" font-size="20.0" stroke="#000" stroke-width="0.615" stroke-linejoin="round">C</text>
<text transform="translate(87.04,23.79) scale(0.5385,0.6500)" class="se" font-style="normal" font-weight="bold" font-size="20.0">,</text>
<text transform="translate(91.11,23.77) scale(0.9416,0.7641)" class="se" font-style="normal" font-weight="normal" font-size="20.0" stroke="#000" stroke-width="0.413" stroke-linejoin="round">fid</text>
<text transform="translate(130.43,16.85) scale(0.7442,0.9928)" class="sa" font-style="normal" font-weight="normal" font-size="20.0" stroke="#000" stroke-width="0.349" stroke-linejoin="round">1</text>
<path d="M13.72,13.90 L15.70,13.65 L13.09,21.74 Q12.81,23.09 14.44,22.88 Q15.70,22.60 16.60,21.32" fill="none" stroke="#000" stroke-width="1.5" stroke-linecap="round" stroke-linejoin="round"/>
<path d="M83.44,13.90 L85.24,13.65 L82.87,21.74 Q82.63,23.09 84.09,22.88 Q85.24,22.60 86.05,21.32" fill="none" stroke="#000" stroke-width="1.5" stroke-linecap="round" stroke-linejoin="round"/>
<path d="M56.4,20.6 L68.6,-1" stroke="#000" stroke-width="1.3" fill="none"/>
<path d="M114.6,10.5 H126.2" stroke="#000" stroke-width="1.3" fill="none"/>
</g>
</g>
</svg>
</body></html>
